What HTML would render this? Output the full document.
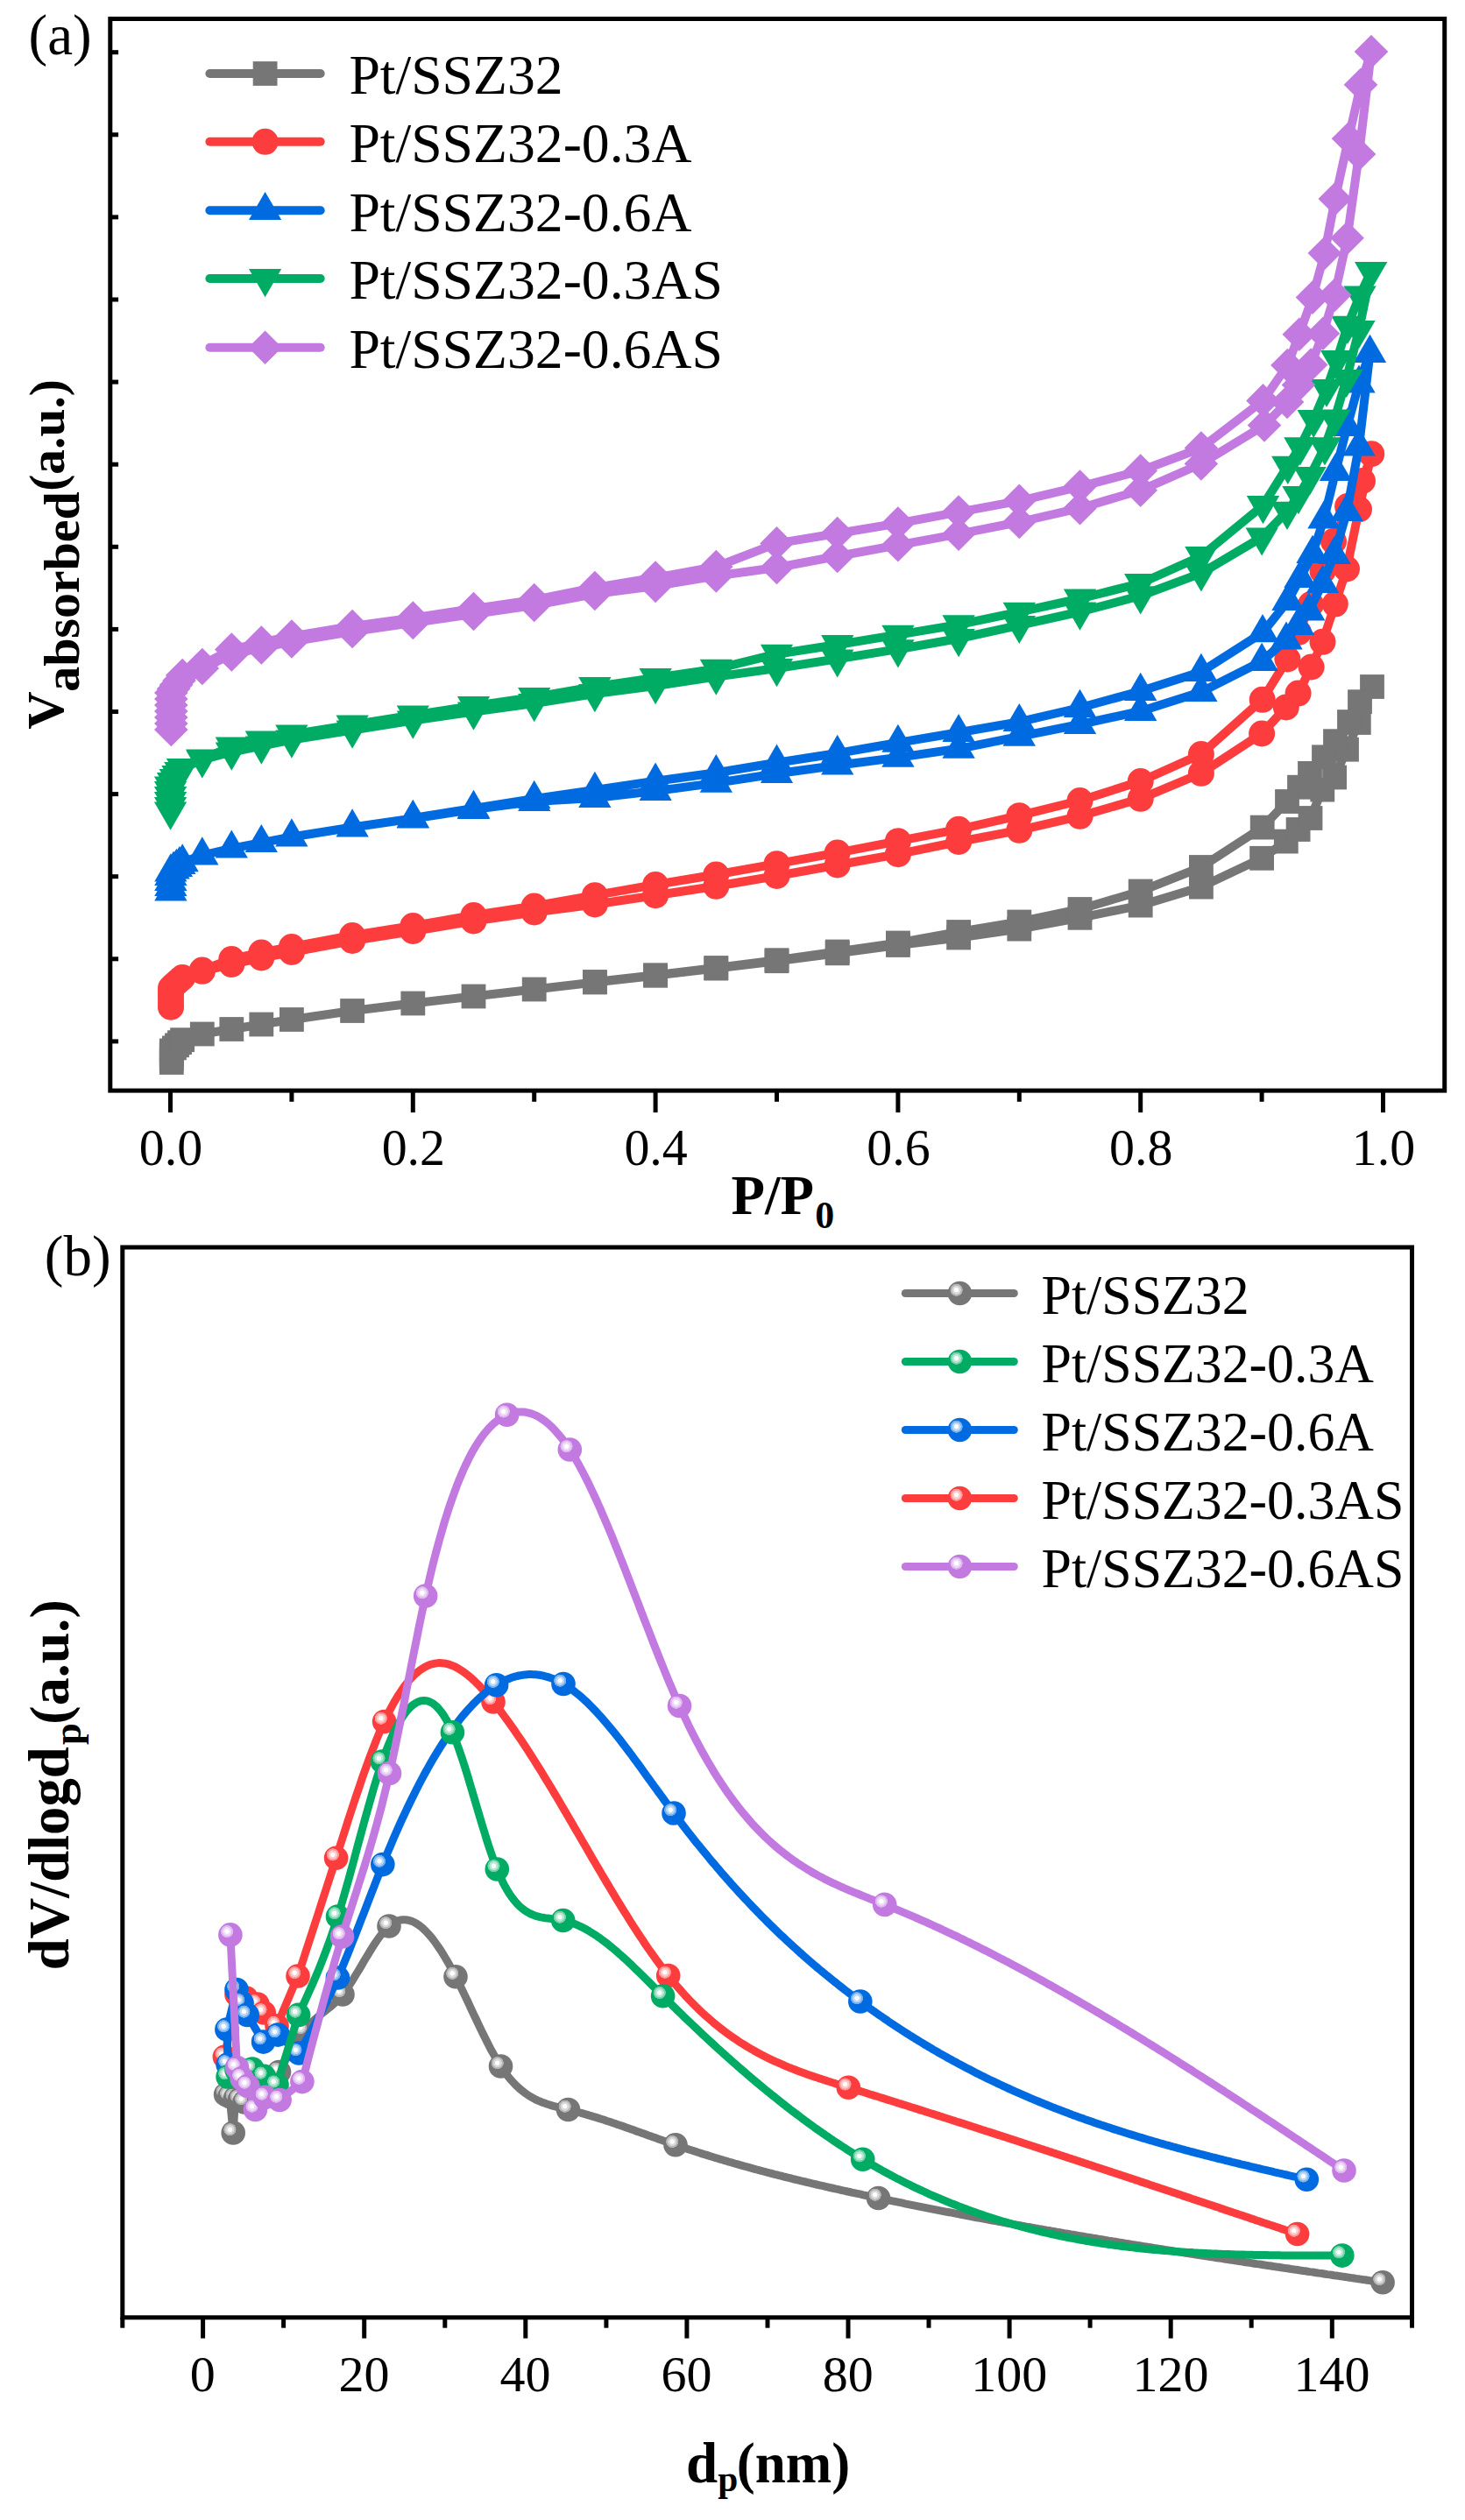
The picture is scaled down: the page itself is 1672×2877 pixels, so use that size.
<!DOCTYPE html>
<html lang="en"><head><meta charset="utf-8"><title>N2 adsorption-desorption isotherms and pore size distribution</title>
<style>html,body{margin:0;padding:0;background:#fff}body{width:1672px;height:2877px;overflow:hidden}svg{display:block}text{font-family:'Liberation Serif', 'Times New Roman', serif;fill:#000}.b{font-weight:bold}</style></head><body>
<svg width="1672" height="2877" viewBox="0 0 1672 2877">
<defs><radialGradient id="hl" cx="0.5" cy="0.5" r="0.5"><stop offset="0" stop-color="#fff" stop-opacity="1"/><stop offset="0.33" stop-color="#fff" stop-opacity="1"/><stop offset="0.40" stop-color="#fff" stop-opacity="0.74"/><stop offset="0.66" stop-color="#fff" stop-opacity="0.72"/><stop offset="0.72" stop-color="#fff" stop-opacity="0.48"/><stop offset="0.95" stop-color="#fff" stop-opacity="0.46"/><stop offset="1" stop-color="#fff" stop-opacity="0"/></radialGradient></defs>
<rect width="1672" height="2877" fill="#fff"/>
<g id="panel-a">
<g fill="#767676" stroke="none">
<path d="M195.8 1213L195.8 1208.5L195.8 1204L195.8 1199.5L198.9 1196.4L202 1193.3L205 1190.2L208.1 1187.2L230.8 1180.5L264.3 1175L298.3 1169.5L332.9 1164L402.1 1154L471.3 1145.5L540.5 1137.5L609.7 1129.5L678.9 1121.5L748.1 1113.7L817.3 1105.6L886.5 1097.2L955.7 1088.3L1024.9 1079L1094.1 1070.5L1163.3 1060.6L1232.5 1047.8L1301.7 1033.6L1370.9 1012.6L1440.1 979.8L1467.8 960.6L1481.6 947L1495.5 934L1509.3 901.6L1523.1 887.5L1537 855.7L1550.8 825L1566 784L1552 801.2L1540 824.1L1524 846.2L1511 864.3L1495 882.9L1483 898.7L1469 915L1440.7 944.6L1370.9 990L1301.7 1017.5L1232.5 1038L1163.3 1052.5L1094.1 1064L1024.9 1076.5L955.7 1086.5L886.5 1096.2L817.3 1105L748.1 1113.3L678.9 1121" fill="none" stroke="#767676" stroke-width="10" stroke-linejoin="round" stroke-linecap="round"/>
<rect x="181.9" y="1199.1" width="27.8" height="27.8"/>
<rect x="181.9" y="1194.6" width="27.8" height="27.8"/>
<rect x="181.9" y="1190.1" width="27.8" height="27.8"/>
<rect x="181.9" y="1185.6" width="27.8" height="27.8"/>
<rect x="185" y="1182.5" width="27.8" height="27.8"/>
<rect x="188.1" y="1179.4" width="27.8" height="27.8"/>
<rect x="191.1" y="1176.3" width="27.8" height="27.8"/>
<rect x="194.2" y="1173.3" width="27.8" height="27.8"/>
<rect x="216.9" y="1166.6" width="27.8" height="27.8"/>
<rect x="250.4" y="1161.1" width="27.8" height="27.8"/>
<rect x="284.4" y="1155.6" width="27.8" height="27.8"/>
<rect x="319" y="1150.1" width="27.8" height="27.8"/>
<rect x="388.2" y="1140.1" width="27.8" height="27.8"/>
<rect x="457.4" y="1131.6" width="27.8" height="27.8"/>
<rect x="526.6" y="1123.6" width="27.8" height="27.8"/>
<rect x="595.8" y="1115.6" width="27.8" height="27.8"/>
<rect x="665" y="1107.6" width="27.8" height="27.8"/>
<rect x="734.2" y="1099.8" width="27.8" height="27.8"/>
<rect x="803.4" y="1091.7" width="27.8" height="27.8"/>
<rect x="872.6" y="1083.3" width="27.8" height="27.8"/>
<rect x="941.8" y="1074.4" width="27.8" height="27.8"/>
<rect x="1011" y="1065.1" width="27.8" height="27.8"/>
<rect x="1080.2" y="1056.6" width="27.8" height="27.8"/>
<rect x="1149.4" y="1046.7" width="27.8" height="27.8"/>
<rect x="1218.6" y="1033.9" width="27.8" height="27.8"/>
<rect x="1287.8" y="1019.7" width="27.8" height="27.8"/>
<rect x="1357" y="998.7" width="27.8" height="27.8"/>
<rect x="1426.2" y="965.9" width="27.8" height="27.8"/>
<rect x="1453.9" y="946.7" width="27.8" height="27.8"/>
<rect x="1467.7" y="933.1" width="27.8" height="27.8"/>
<rect x="1481.6" y="920.1" width="27.8" height="27.8"/>
<rect x="1495.4" y="887.7" width="27.8" height="27.8"/>
<rect x="1509.2" y="873.6" width="27.8" height="27.8"/>
<rect x="1523.1" y="841.8" width="27.8" height="27.8"/>
<rect x="1536.9" y="811.1" width="27.8" height="27.8"/>
<rect x="1552.1" y="770.1" width="27.8" height="27.8"/>
<rect x="1538.1" y="787.3" width="27.8" height="27.8"/>
<rect x="1526.1" y="810.2" width="27.8" height="27.8"/>
<rect x="1510.1" y="832.3" width="27.8" height="27.8"/>
<rect x="1497.1" y="850.4" width="27.8" height="27.8"/>
<rect x="1481.1" y="869" width="27.8" height="27.8"/>
<rect x="1469.1" y="884.8" width="27.8" height="27.8"/>
<rect x="1455.1" y="901.1" width="27.8" height="27.8"/>
<rect x="1426.8" y="930.7" width="27.8" height="27.8"/>
<rect x="1357" y="976.1" width="27.8" height="27.8"/>
<rect x="1287.8" y="1003.6" width="27.8" height="27.8"/>
<rect x="1218.6" y="1024.1" width="27.8" height="27.8"/>
<rect x="1149.4" y="1038.6" width="27.8" height="27.8"/>
<rect x="1080.2" y="1050.1" width="27.8" height="27.8"/>
<rect x="1011" y="1062.6" width="27.8" height="27.8"/>
<rect x="941.8" y="1072.6" width="27.8" height="27.8"/>
<rect x="872.6" y="1082.3" width="27.8" height="27.8"/>
<rect x="803.4" y="1091.1" width="27.8" height="27.8"/>
<rect x="734.2" y="1099.4" width="27.8" height="27.8"/>
<rect x="665" y="1107.1" width="27.8" height="27.8"/>
</g>
<g fill="#fd3d3d" stroke="none">
<path d="M195 1149.7L195 1144L195 1138.5L195 1133L195 1128L198 1125L201.4 1122L204.8 1119L208.2 1116L230.8 1108.8L264.3 1101L298.3 1093.5L332.9 1087L402.1 1074L471.3 1063L540.5 1051.5L609.7 1041.5L678.9 1032.5L748.1 1022.2L817.3 1011.8L886.5 1000L955.7 987.5L1024.9 975.2L1094.1 961L1163.3 947.8L1232.5 931.8L1301.7 911.8L1370.9 882.8L1440.1 837.5L1467.8 807.4L1481.6 791.6L1496.6 761.5L1509.5 732.8L1523.8 689.6L1537 649.5L1551 581.5L1565.2 518.2L1555 549L1538 578L1522 618L1509.5 652L1496 690L1482 722L1469.4 752.5L1440.7 798.8L1370.9 861L1301.7 892L1232.5 914L1163.3 931.2L1094.1 946.8L1024.9 960.2L955.7 973.6L886.5 986.2L817.3 998.5L748.1 1010L678.9 1022.2L609.7 1034.5L540.5 1045L471.3 1057L402.1 1068L332.9 1081L298.3 1087.5L264.3 1095L230.8 1107.5" fill="none" stroke="#fd3d3d" stroke-width="10" stroke-linejoin="round" stroke-linecap="round"/>
<circle cx="195" cy="1149.7" r="15"/>
<circle cx="195" cy="1144" r="15"/>
<circle cx="195" cy="1138.5" r="15"/>
<circle cx="195" cy="1133" r="15"/>
<circle cx="195" cy="1128" r="15"/>
<circle cx="198" cy="1125" r="15"/>
<circle cx="201.4" cy="1122" r="15"/>
<circle cx="204.8" cy="1119" r="15"/>
<circle cx="208.2" cy="1116" r="15"/>
<circle cx="230.8" cy="1108.8" r="15"/>
<circle cx="264.3" cy="1101" r="15"/>
<circle cx="298.3" cy="1093.5" r="15"/>
<circle cx="332.9" cy="1087" r="15"/>
<circle cx="402.1" cy="1074" r="15"/>
<circle cx="471.3" cy="1063" r="15"/>
<circle cx="540.5" cy="1051.5" r="15"/>
<circle cx="609.7" cy="1041.5" r="15"/>
<circle cx="678.9" cy="1032.5" r="15"/>
<circle cx="748.1" cy="1022.2" r="15"/>
<circle cx="817.3" cy="1011.8" r="15"/>
<circle cx="886.5" cy="1000" r="15"/>
<circle cx="955.7" cy="987.5" r="15"/>
<circle cx="1024.9" cy="975.2" r="15"/>
<circle cx="1094.1" cy="961" r="15"/>
<circle cx="1163.3" cy="947.8" r="15"/>
<circle cx="1232.5" cy="931.8" r="15"/>
<circle cx="1301.7" cy="911.8" r="15"/>
<circle cx="1370.9" cy="882.8" r="15"/>
<circle cx="1440.1" cy="837.5" r="15"/>
<circle cx="1467.8" cy="807.4" r="15"/>
<circle cx="1481.6" cy="791.6" r="15"/>
<circle cx="1496.6" cy="761.5" r="15"/>
<circle cx="1509.5" cy="732.8" r="15"/>
<circle cx="1523.8" cy="689.6" r="15"/>
<circle cx="1537" cy="649.5" r="15"/>
<circle cx="1551" cy="581.5" r="15"/>
<circle cx="1565.2" cy="518.2" r="15"/>
<circle cx="1555" cy="549" r="15"/>
<circle cx="1538" cy="578" r="15"/>
<circle cx="1522" cy="618" r="15"/>
<circle cx="1509.5" cy="652" r="15"/>
<circle cx="1496" cy="690" r="15"/>
<circle cx="1482" cy="722" r="15"/>
<circle cx="1469.4" cy="752.5" r="15"/>
<circle cx="1440.7" cy="798.8" r="15"/>
<circle cx="1370.9" cy="861" r="15"/>
<circle cx="1301.7" cy="892" r="15"/>
<circle cx="1232.5" cy="914" r="15"/>
<circle cx="1163.3" cy="931.2" r="15"/>
<circle cx="1094.1" cy="946.8" r="15"/>
<circle cx="1024.9" cy="960.2" r="15"/>
<circle cx="955.7" cy="973.6" r="15"/>
<circle cx="886.5" cy="986.2" r="15"/>
<circle cx="817.3" cy="998.5" r="15"/>
<circle cx="748.1" cy="1010" r="15"/>
<circle cx="678.9" cy="1022.2" r="15"/>
<circle cx="609.7" cy="1034.5" r="15"/>
<circle cx="540.5" cy="1045" r="15"/>
<circle cx="471.3" cy="1057" r="15"/>
<circle cx="402.1" cy="1068" r="15"/>
<circle cx="332.9" cy="1081" r="15"/>
<circle cx="298.3" cy="1087.5" r="15"/>
<circle cx="264.3" cy="1095" r="15"/>
<circle cx="230.8" cy="1107.5" r="15"/>
</g>
<g fill="#006be0" stroke="none">
<path d="M194.8 1017.5L194.8 1012L194.8 1006L194.8 1000L194.8 995.5L198 992.7L201.4 990L204.8 987.2L208.2 984.4L230.8 976.5L264.3 968.6L298.3 962.2L332.9 955.5L402.1 944.5L471.3 934.5L540.5 924L609.7 915L678.9 911L748.1 903L817.3 893.9L886.5 883.2L955.7 873.7L1024.9 864.9L1094.1 854.8L1163.3 840.8L1232.5 827L1301.7 812L1370.9 790L1440.1 755L1468 730.6L1481.5 714L1493.7 697.7L1509.5 666L1523 633L1537.2 584L1551 509.6L1563.5 403L1551 437.7L1537.5 487L1524.4 538L1511 592.5L1498 632L1484 660L1470 686L1441 722.3L1370.9 767L1301.7 789L1232.5 808L1163.3 824.2L1094.1 836.2L1024.9 847.9L955.7 860L886.5 870.8L817.3 882.3L748.1 891.8L678.9 902L609.7 912L540.5 923L471.3 934" fill="none" stroke="#006be0" stroke-width="10" stroke-linejoin="round" stroke-linecap="round"/>
<path d="M194.8 996.3L213.5 1028.4L176.2 1028.4Z"/>
<path d="M194.8 990.8L213.5 1022.9L176.2 1022.9Z"/>
<path d="M194.8 984.8L213.5 1016.9L176.2 1016.9Z"/>
<path d="M194.8 978.8L213.5 1010.9L176.2 1010.9Z"/>
<path d="M194.8 974.3L213.5 1006.4L176.2 1006.4Z"/>
<path d="M198 971.5L216.7 1003.6L179.3 1003.6Z"/>
<path d="M201.4 968.8L220.1 1000.9L182.8 1000.9Z"/>
<path d="M204.8 966L223.5 998.1L186.2 998.1Z"/>
<path d="M208.2 963.2L226.8 995.3L189.5 995.3Z"/>
<path d="M230.8 955.3L249.5 987.4L212.2 987.4Z"/>
<path d="M264.3 947.4L282.9 979.5L245.7 979.5Z"/>
<path d="M298.3 941L316.9 973.1L279.7 973.1Z"/>
<path d="M332.9 934.3L351.5 966.4L314.2 966.4Z"/>
<path d="M402.1 923.3L420.8 955.4L383.5 955.4Z"/>
<path d="M471.3 913.3L489.9 945.4L452.7 945.4Z"/>
<path d="M540.5 902.8L559.1 934.9L521.9 934.9Z"/>
<path d="M609.7 893.8L628.4 925.9L591.1 925.9Z"/>
<path d="M678.9 889.8L697.5 921.9L660.2 921.9Z"/>
<path d="M748.1 881.8L766.8 913.9L729.5 913.9Z"/>
<path d="M817.3 872.7L836 904.8L798.7 904.8Z"/>
<path d="M886.5 862L905.1 894.1L867.9 894.1Z"/>
<path d="M955.7 852.5L974.4 884.6L937.1 884.6Z"/>
<path d="M1024.9 843.7L1043.6 875.8L1006.3 875.8Z"/>
<path d="M1094.1 833.6L1112.8 865.7L1075.4 865.7Z"/>
<path d="M1163.3 819.6L1182 851.7L1144.6 851.7Z"/>
<path d="M1232.5 805.8L1251.2 837.9L1213.8 837.9Z"/>
<path d="M1301.7 790.8L1320.4 822.9L1283 822.9Z"/>
<path d="M1370.9 768.8L1389.5 800.9L1352.2 800.9Z"/>
<path d="M1440.1 733.8L1458.8 765.9L1421.5 765.9Z"/>
<path d="M1468 709.4L1486.7 741.5L1449.3 741.5Z"/>
<path d="M1481.5 692.8L1500.2 724.9L1462.8 724.9Z"/>
<path d="M1493.7 676.5L1512.4 708.6L1475 708.6Z"/>
<path d="M1509.5 644.8L1528.2 676.9L1490.8 676.9Z"/>
<path d="M1523 611.8L1541.7 643.9L1504.3 643.9Z"/>
<path d="M1537.2 562.8L1555.9 594.9L1518.5 594.9Z"/>
<path d="M1551 488.4L1569.7 520.5L1532.3 520.5Z"/>
<path d="M1563.5 381.8L1582.2 413.9L1544.8 413.9Z"/>
<path d="M1551 416.5L1569.7 448.6L1532.3 448.6Z"/>
<path d="M1537.5 465.8L1556.2 497.9L1518.8 497.9Z"/>
<path d="M1524.4 516.8L1543.1 548.9L1505.8 548.9Z"/>
<path d="M1511 571.3L1529.7 603.4L1492.3 603.4Z"/>
<path d="M1498 610.8L1516.7 642.9L1479.3 642.9Z"/>
<path d="M1484 638.8L1502.7 670.9L1465.3 670.9Z"/>
<path d="M1470 664.8L1488.7 696.9L1451.3 696.9Z"/>
<path d="M1441 701.1L1459.7 733.2L1422.3 733.2Z"/>
<path d="M1370.9 745.8L1389.5 777.9L1352.2 777.9Z"/>
<path d="M1301.7 767.8L1320.4 799.9L1283 799.9Z"/>
<path d="M1232.5 786.8L1251.2 818.9L1213.8 818.9Z"/>
<path d="M1163.3 803L1182 835.1L1144.6 835.1Z"/>
<path d="M1094.1 815L1112.8 847.1L1075.4 847.1Z"/>
<path d="M1024.9 826.7L1043.6 858.8L1006.3 858.8Z"/>
<path d="M955.7 838.8L974.4 870.9L937.1 870.9Z"/>
<path d="M886.5 849.6L905.1 881.7L867.9 881.7Z"/>
<path d="M817.3 861.1L836 893.2L798.7 893.2Z"/>
<path d="M748.1 870.6L766.8 902.7L729.5 902.7Z"/>
<path d="M678.9 880.8L697.5 912.9L660.2 912.9Z"/>
<path d="M609.7 890.8L628.4 922.9L591.1 922.9Z"/>
<path d="M540.5 901.8L559.1 933.9L521.9 933.9Z"/>
<path d="M471.3 912.8L489.9 944.9L452.7 944.9Z"/>
</g>
<g fill="#00ab64" stroke="none">
<path d="M194.6 926.5L194.6 921L194.6 915L194.6 909L194.6 903L194.6 897.5L197.5 893L200.3 889L203 885L205.8 881L208.5 877L230.8 867.3L264.3 858.5L298.3 851.5L332.9 844.5L402.1 833.5L471.3 822.5L540.5 812.5L609.7 803L678.9 792L748.1 783L817.3 772.6L886.5 763L955.7 752.3L1024.9 741.2L1094.1 729L1163.3 713.8L1232.5 698.5L1301.7 680.2L1370.9 654.4L1440.1 613.4L1469 583.7L1482 566L1495 544L1512 510.2L1523.2 478.3L1536.7 432.8L1551 376.8L1564.7 310L1552 337.3L1538 371.7L1525.7 411L1514 443.9L1499.2 478.9L1483.9 510.2L1469.8 531.7L1441.5 577L1370.9 635L1301.7 666L1232.5 683.5L1163.3 698.6L1094.1 713.1L1024.9 724.6L955.7 736L886.5 746.7L817.3 763.6L748.1 774L678.9 784L609.7 796L540.5 806L471.3 816.5L402.1 827.5L332.9 838.5L298.3 845.5L264.3 852.5L230.8 866.5" fill="none" stroke="#00ab64" stroke-width="10" stroke-linejoin="round" stroke-linecap="round"/>
<path d="M194.6 947.7L213.2 915.6L175.9 915.6Z"/>
<path d="M194.6 942.2L213.2 910.1L175.9 910.1Z"/>
<path d="M194.6 936.2L213.2 904.1L175.9 904.1Z"/>
<path d="M194.6 930.2L213.2 898.1L175.9 898.1Z"/>
<path d="M194.6 924.2L213.2 892.1L175.9 892.1Z"/>
<path d="M194.6 918.7L213.2 886.6L175.9 886.6Z"/>
<path d="M197.5 914.2L216.2 882.1L178.8 882.1Z"/>
<path d="M200.3 910.2L219 878.1L181.7 878.1Z"/>
<path d="M203 906.2L221.7 874.1L184.3 874.1Z"/>
<path d="M205.8 902.2L224.5 870.1L187.2 870.1Z"/>
<path d="M208.5 898.2L227.2 866.1L189.8 866.1Z"/>
<path d="M230.8 888.5L249.5 856.4L212.2 856.4Z"/>
<path d="M264.3 879.7L282.9 847.6L245.7 847.6Z"/>
<path d="M298.3 872.7L316.9 840.6L279.7 840.6Z"/>
<path d="M332.9 865.7L351.5 833.6L314.2 833.6Z"/>
<path d="M402.1 854.7L420.8 822.6L383.5 822.6Z"/>
<path d="M471.3 843.7L489.9 811.6L452.7 811.6Z"/>
<path d="M540.5 833.7L559.1 801.6L521.9 801.6Z"/>
<path d="M609.7 824.2L628.4 792.1L591.1 792.1Z"/>
<path d="M678.9 813.2L697.5 781.1L660.2 781.1Z"/>
<path d="M748.1 804.2L766.8 772.1L729.5 772.1Z"/>
<path d="M817.3 793.8L836 761.7L798.7 761.7Z"/>
<path d="M886.5 784.2L905.1 752.1L867.9 752.1Z"/>
<path d="M955.7 773.5L974.4 741.4L937.1 741.4Z"/>
<path d="M1024.9 762.4L1043.6 730.3L1006.3 730.3Z"/>
<path d="M1094.1 750.2L1112.8 718.1L1075.4 718.1Z"/>
<path d="M1163.3 735L1182 702.9L1144.6 702.9Z"/>
<path d="M1232.5 719.7L1251.2 687.6L1213.8 687.6Z"/>
<path d="M1301.7 701.4L1320.4 669.3L1283 669.3Z"/>
<path d="M1370.9 675.6L1389.5 643.5L1352.2 643.5Z"/>
<path d="M1440.1 634.6L1458.8 602.5L1421.5 602.5Z"/>
<path d="M1469 604.9L1487.7 572.8L1450.3 572.8Z"/>
<path d="M1482 587.2L1500.7 555.1L1463.3 555.1Z"/>
<path d="M1495 565.2L1513.7 533.1L1476.3 533.1Z"/>
<path d="M1512 531.4L1530.7 499.3L1493.3 499.3Z"/>
<path d="M1523.2 499.5L1541.9 467.4L1504.5 467.4Z"/>
<path d="M1536.7 454L1555.4 421.9L1518 421.9Z"/>
<path d="M1551 398L1569.7 365.9L1532.3 365.9Z"/>
<path d="M1564.7 331.2L1583.4 299.1L1546 299.1Z"/>
<path d="M1552 358.5L1570.7 326.4L1533.3 326.4Z"/>
<path d="M1538 392.9L1556.7 360.8L1519.3 360.8Z"/>
<path d="M1525.7 432.2L1544.4 400.1L1507 400.1Z"/>
<path d="M1514 465.1L1532.7 433L1495.3 433Z"/>
<path d="M1499.2 500.1L1517.9 468L1480.5 468Z"/>
<path d="M1483.9 531.4L1502.6 499.3L1465.2 499.3Z"/>
<path d="M1469.8 552.9L1488.5 520.8L1451.1 520.8Z"/>
<path d="M1441.5 598.2L1460.2 566.1L1422.8 566.1Z"/>
<path d="M1370.9 656.2L1389.5 624.1L1352.2 624.1Z"/>
<path d="M1301.7 687.2L1320.4 655.1L1283 655.1Z"/>
<path d="M1232.5 704.7L1251.2 672.6L1213.8 672.6Z"/>
<path d="M1163.3 719.8L1182 687.7L1144.6 687.7Z"/>
<path d="M1094.1 734.3L1112.8 702.2L1075.4 702.2Z"/>
<path d="M1024.9 745.8L1043.6 713.7L1006.3 713.7Z"/>
<path d="M955.7 757.2L974.4 725.1L937.1 725.1Z"/>
<path d="M886.5 767.9L905.1 735.8L867.9 735.8Z"/>
<path d="M817.3 784.8L836 752.7L798.7 752.7Z"/>
<path d="M748.1 795.2L766.8 763.1L729.5 763.1Z"/>
<path d="M678.9 805.2L697.5 773.1L660.2 773.1Z"/>
<path d="M609.7 817.2L628.4 785.1L591.1 785.1Z"/>
<path d="M540.5 827.2L559.1 795.1L521.9 795.1Z"/>
<path d="M471.3 837.7L489.9 805.6L452.7 805.6Z"/>
<path d="M402.1 848.7L420.8 816.6L383.5 816.6Z"/>
<path d="M332.9 859.7L351.5 827.6L314.2 827.6Z"/>
<path d="M298.3 866.7L316.9 834.6L279.7 834.6Z"/>
<path d="M264.3 873.7L282.9 841.6L245.7 841.6Z"/>
<path d="M230.8 887.7L249.5 855.6L212.2 855.6Z"/>
</g>
<g fill="#c27ae1" stroke="none">
<path d="M195.3 833L195.3 826L195.3 819L195.3 812L195.3 805L195.3 798L195.3 791L198 786.5L201 782L204.5 777L208.2 771L230.8 763L264.3 747.5L298.3 739.5L332.9 732.5L402.1 721L471.3 711L540.5 701L609.7 691L678.9 678L748.1 669L817.3 657.5L886.5 648L955.7 635L1024.9 622.3L1094.1 609.7L1163.3 596L1232.5 580.2L1301.7 559.8L1370.9 529.5L1443 485.5L1469 459L1482 439.6L1496.2 416.5L1510 380.8L1523.3 336.8L1537.6 271.7L1551 176L1565 59L1553 96.8L1539 158.3L1523.8 227L1511.8 289L1498 339.6L1482.8 381.8L1469.4 417L1441.5 457.4L1370.9 511.5L1301.7 537.5L1232.5 555.6L1163.3 571.8L1094.1 584.6L1024.9 597.5L955.7 609L886.5 620.4L817.3 647L748.1 659.5L678.9 671L609.7 685L540.5 695L471.3 705.5L402.1 715L332.9 726.5L298.3 733.5L264.3 741.5L230.8 759" fill="none" stroke="#c27ae1" stroke-width="10" stroke-linejoin="round" stroke-linecap="round"/>
<path d="M195.3 813.7L214.6 833L195.3 852.3L176 833Z"/>
<path d="M195.3 806.7L214.6 826L195.3 845.3L176 826Z"/>
<path d="M195.3 799.7L214.6 819L195.3 838.3L176 819Z"/>
<path d="M195.3 792.7L214.6 812L195.3 831.3L176 812Z"/>
<path d="M195.3 785.7L214.6 805L195.3 824.3L176 805Z"/>
<path d="M195.3 778.7L214.6 798L195.3 817.3L176 798Z"/>
<path d="M195.3 771.7L214.6 791L195.3 810.3L176 791Z"/>
<path d="M198 767.2L217.3 786.5L198 805.8L178.7 786.5Z"/>
<path d="M201 762.7L220.3 782L201 801.3L181.7 782Z"/>
<path d="M204.5 757.7L223.8 777L204.5 796.3L185.2 777Z"/>
<path d="M208.2 751.7L227.5 771L208.2 790.3L188.9 771Z"/>
<path d="M230.8 743.7L250.1 763L230.8 782.3L211.5 763Z"/>
<path d="M264.3 728.2L283.6 747.5L264.3 766.8L245 747.5Z"/>
<path d="M298.3 720.2L317.6 739.5L298.3 758.8L279 739.5Z"/>
<path d="M332.9 713.2L352.2 732.5L332.9 751.8L313.6 732.5Z"/>
<path d="M402.1 701.7L421.4 721L402.1 740.3L382.8 721Z"/>
<path d="M471.3 691.7L490.6 711L471.3 730.3L452 711Z"/>
<path d="M540.5 681.7L559.8 701L540.5 720.3L521.2 701Z"/>
<path d="M609.7 671.7L629 691L609.7 710.3L590.4 691Z"/>
<path d="M678.9 658.7L698.2 678L678.9 697.3L659.6 678Z"/>
<path d="M748.1 649.7L767.4 669L748.1 688.3L728.8 669Z"/>
<path d="M817.3 638.2L836.6 657.5L817.3 676.8L798 657.5Z"/>
<path d="M886.5 628.7L905.8 648L886.5 667.3L867.2 648Z"/>
<path d="M955.7 615.7L975 635L955.7 654.3L936.4 635Z"/>
<path d="M1024.9 603L1044.2 622.3L1024.9 641.6L1005.6 622.3Z"/>
<path d="M1094.1 590.4L1113.4 609.7L1094.1 629L1074.8 609.7Z"/>
<path d="M1163.3 576.7L1182.6 596L1163.3 615.3L1144 596Z"/>
<path d="M1232.5 560.9L1251.8 580.2L1232.5 599.5L1213.2 580.2Z"/>
<path d="M1301.7 540.5L1321 559.8L1301.7 579.1L1282.4 559.8Z"/>
<path d="M1370.9 510.2L1390.2 529.5L1370.9 548.8L1351.6 529.5Z"/>
<path d="M1443 466.2L1462.3 485.5L1443 504.8L1423.7 485.5Z"/>
<path d="M1469 439.7L1488.3 459L1469 478.3L1449.7 459Z"/>
<path d="M1482 420.3L1501.3 439.6L1482 458.9L1462.7 439.6Z"/>
<path d="M1496.2 397.2L1515.5 416.5L1496.2 435.8L1476.9 416.5Z"/>
<path d="M1510 361.5L1529.3 380.8L1510 400.1L1490.7 380.8Z"/>
<path d="M1523.3 317.5L1542.6 336.8L1523.3 356.1L1504 336.8Z"/>
<path d="M1537.6 252.4L1556.9 271.7L1537.6 291L1518.3 271.7Z"/>
<path d="M1551 156.7L1570.3 176L1551 195.3L1531.7 176Z"/>
<path d="M1565 39.7L1584.3 59L1565 78.3L1545.7 59Z"/>
<path d="M1553 77.5L1572.3 96.8L1553 116.1L1533.7 96.8Z"/>
<path d="M1539 139L1558.3 158.3L1539 177.6L1519.7 158.3Z"/>
<path d="M1523.8 207.7L1543.1 227L1523.8 246.3L1504.5 227Z"/>
<path d="M1511.8 269.7L1531.1 289L1511.8 308.3L1492.5 289Z"/>
<path d="M1498 320.3L1517.3 339.6L1498 358.9L1478.7 339.6Z"/>
<path d="M1482.8 362.5L1502.1 381.8L1482.8 401.1L1463.5 381.8Z"/>
<path d="M1469.4 397.7L1488.7 417L1469.4 436.3L1450.1 417Z"/>
<path d="M1441.5 438.1L1460.8 457.4L1441.5 476.7L1422.2 457.4Z"/>
<path d="M1370.9 492.2L1390.2 511.5L1370.9 530.8L1351.6 511.5Z"/>
<path d="M1301.7 518.2L1321 537.5L1301.7 556.8L1282.4 537.5Z"/>
<path d="M1232.5 536.3L1251.8 555.6L1232.5 574.9L1213.2 555.6Z"/>
<path d="M1163.3 552.5L1182.6 571.8L1163.3 591.1L1144 571.8Z"/>
<path d="M1094.1 565.3L1113.4 584.6L1094.1 603.9L1074.8 584.6Z"/>
<path d="M1024.9 578.2L1044.2 597.5L1024.9 616.8L1005.6 597.5Z"/>
<path d="M955.7 589.7L975 609L955.7 628.3L936.4 609Z"/>
<path d="M886.5 601.1L905.8 620.4L886.5 639.7L867.2 620.4Z"/>
<path d="M817.3 627.7L836.6 647L817.3 666.3L798 647Z"/>
<path d="M748.1 640.2L767.4 659.5L748.1 678.8L728.8 659.5Z"/>
<path d="M678.9 651.7L698.2 671L678.9 690.3L659.6 671Z"/>
<path d="M609.7 665.7L629 685L609.7 704.3L590.4 685Z"/>
<path d="M540.5 675.7L559.8 695L540.5 714.3L521.2 695Z"/>
<path d="M471.3 686.2L490.6 705.5L471.3 724.8L452 705.5Z"/>
<path d="M402.1 695.7L421.4 715L402.1 734.3L382.8 715Z"/>
<path d="M332.9 707.2L352.2 726.5L332.9 745.8L313.6 726.5Z"/>
<path d="M298.3 714.2L317.6 733.5L298.3 752.8L279 733.5Z"/>
<path d="M264.3 722.2L283.6 741.5L264.3 760.8L245 741.5Z"/>
<path d="M230.8 739.7L250.1 759L230.8 778.3L211.5 759Z"/>
</g>
<g stroke="#000" stroke-width="5" fill="none" stroke-linecap="butt">
<rect x="125.8" y="21.5" width="1522.9" height="1223.6"/>
<path d="M125.8 59.7H135.1"/>
<path d="M125.8 153.8H135.1"/>
<path d="M125.8 247.9H135.1"/>
<path d="M125.8 342H135.1"/>
<path d="M125.8 436.1H135.1"/>
<path d="M125.8 530.2H135.1"/>
<path d="M125.8 624.3H135.1"/>
<path d="M125.8 718.4H135.1"/>
<path d="M125.8 812.5H135.1"/>
<path d="M125.8 906.6H135.1"/>
<path d="M125.8 1000.7H135.1"/>
<path d="M125.8 1094.8H135.1"/>
<path d="M125.8 1188.9H135.1"/>
<path d="M194.5 1245.1V1270.1"/>
<path d="M471.3 1245.1V1270.1"/>
<path d="M748.1 1245.1V1270.1"/>
<path d="M1024.9 1245.1V1270.1"/>
<path d="M1301.7 1245.1V1270.1"/>
<path d="M1578.5 1245.1V1270.1"/>
<path d="M332.9 1245.1V1257.8"/>
<path d="M609.7 1245.1V1257.8"/>
<path d="M886.5 1245.1V1257.8"/>
<path d="M1163.3 1245.1V1257.8"/>
<path d="M1440.1 1245.1V1257.8"/>
</g>
<g font-size="60">
<text text-anchor="middle" transform="translate(195 1330) scale(0.965 1)">0.0</text>
<text text-anchor="middle" transform="translate(471.8 1330) scale(0.965 1)">0.2</text>
<text text-anchor="middle" transform="translate(748.6 1330) scale(0.965 1)">0.4</text>
<text text-anchor="middle" transform="translate(1025.4 1330) scale(0.965 1)">0.6</text>
<text text-anchor="middle" transform="translate(1302.2 1330) scale(0.965 1)">0.8</text>
<text text-anchor="middle" transform="translate(1579 1330) scale(0.965 1)">1.0</text>
</g>
<text class="b" font-size="63" x="834.5" y="1386.2">P/P<tspan font-size="44" dx="1.2" dy="15.5">0</tspan></text>
<g class="b" transform="translate(72.6 832.8) rotate(-90)"><text font-size="60" x="0" y="-0.9">V</text><text font-size="58" x="43" y="17" textLength="228.6" lengthAdjust="spacing">absorbed</text><text font-size="57.5" x="272" y="0">(a.u.)</text></g>
<text font-size="65" x="32.5" y="61.5">(a)</text>
<g fill="#767676"><path d="M239.4 84H365.7" stroke="#767676" stroke-width="10" stroke-linecap="round"/><rect x="288.7" y="70.1" width="27.8" height="27.8"/></g>
<text font-size="63.7" x="398.4" y="107.3">Pt/SSZ32</text>
<g fill="#fd3d3d"><path d="M239.4 161.8H365.7" stroke="#fd3d3d" stroke-width="10" stroke-linecap="round"/><circle cx="302.6" cy="161.8" r="15"/></g>
<text font-size="63.7" x="398.4" y="185.1">Pt/SSZ32-0.3A</text>
<g fill="#006be0"><path d="M239.4 240.2H365.7" stroke="#006be0" stroke-width="10" stroke-linecap="round"/><path d="M302.6 219L321.2 251.1L284 251.1Z"/></g>
<text font-size="63.7" x="398.4" y="263.5">Pt/SSZ32-0.6A</text>
<g fill="#00ab64"><path d="M239.4 318H365.7" stroke="#00ab64" stroke-width="10" stroke-linecap="round"/><path d="M302.6 339.2L321.2 307.1L284 307.1Z"/></g>
<text font-size="63.7" x="398.4" y="341.3">Pt/SSZ32-0.3AS</text>
<g fill="#c27ae1"><path d="M239.4 396.8H365.7" stroke="#c27ae1" stroke-width="10" stroke-linecap="round"/><path d="M302.6 377.5L321.9 396.8L302.6 416.1L283.3 396.8Z"/></g>
<text font-size="63.7" x="398.4" y="420.1">Pt/SSZ32-0.6AS</text>
</g>
<g id="panel-b">
<g fill="#767676">
<path d="M257.6 2391.3L262 2393.5L266.2 2435L268.5 2395.5L273.5 2397L279 2400L318.5 2365.5L321 2360.8L323.5 2356.2L326.1 2351.6L328.6 2347L331.1 2342.6L333.6 2338.3L336.2 2334.1L338.7 2330.1L341.2 2326.3L343.7 2322.7L346.3 2319.4L346.7 2318.8L348.8 2316.2L351.3 2313.4L353.8 2310.7L356.4 2308.3L358.9 2306L361.4 2303.8L363.9 2301.7L366.5 2299.6L369 2297.6L371.5 2295.6L374 2293.6L376.6 2291.5L379.1 2289.3L381.6 2287.1L384.1 2284.6L386.7 2282L389.2 2279.2L391 2277L391.7 2276.1L394.2 2272.8L396.8 2269.3L399.3 2265.6L401.8 2261.7L404.3 2257.7L406.8 2253.5L409.4 2249.3L411.9 2245.1L414.4 2240.8L416.9 2236.5L419.5 2232.3L422 2228.1L424.5 2224.1L427 2220.1L429.6 2216.3L432.1 2212.7L434.6 2209.3L437.1 2206.2L439.7 2203.3L442.2 2200.7L444 2199L444.7 2198.4L447.2 2196.5L449.8 2194.9L452.3 2193.6L454.8 2192.7L457.3 2192L459.9 2191.7L462.4 2191.7L464.9 2192L467.4 2192.6L470 2193.4L472.5 2194.5L475 2195.9L477.5 2197.5L480.1 2199.4L482.6 2201.5L485.1 2203.9L487.6 2206.5L490.1 2209.3L492.7 2212.3L495.2 2215.5L497.7 2219L500.2 2222.6L502.8 2226.4L505.3 2230.4L507.8 2234.5L510.3 2238.8L512.9 2243.3L515.4 2247.9L517.9 2252.7L520 2256.7L520.4 2257.6L523 2262.6L525.5 2267.7L528 2272.9L530.5 2278.2L533.1 2283.5L535.6 2288.9L538.1 2294.3L540.6 2299.7L543.2 2305L545.7 2310.4L548.2 2315.7L550.7 2320.9L553.3 2326L555.8 2331.1L558.3 2336L560.8 2340.8L563.4 2345.4L565.9 2349.8L568.4 2354.1L570.9 2358.1L571.5 2359L573.4 2361.9L576 2365.5L578.5 2368.9L581 2372.1L583.5 2375L586.1 2377.8L588.6 2380.4L591.1 2382.8L593.6 2385.1L596.2 2387.2L598.7 2389.1L601.2 2390.9L603.7 2392.6L606.3 2394.1L608.8 2395.6L611.3 2396.9L613.8 2398.1L616.4 2399.2L618.9 2400.2L621.4 2401.1L623.9 2402L626.5 2402.8L629 2403.6L631.5 2404.3L634 2405L636.6 2405.6L639.1 2406.2L641.6 2406.8L644.1 2407.4L646.7 2408.1L648.5 2408.5L649.2 2408.7L651.7 2409.3L654.2 2409.9L656.7 2410.6L659.3 2411.3L661.8 2412L664.3 2412.7L666.8 2413.4L669.4 2414.1L671.9 2414.9L674.4 2415.6L676.9 2416.4L679.5 2417.1L682 2417.9L684.5 2418.7L687 2419.5L689.6 2420.3L692.1 2421.2L694.6 2422L697.1 2422.8L699.7 2423.7L702.2 2424.5L704.7 2425.4L707.2 2426.3L709.8 2427.1L712.3 2428L714.8 2428.9L717.3 2429.8L719.9 2430.7L722.4 2431.6L724.9 2432.5L727.4 2433.4L730 2434.3L732.5 2435.2L735 2436.1L737.5 2437L740 2437.9L742.6 2438.8L745.1 2439.7L747.6 2440.6L750.1 2441.5L752.7 2442.4L755.2 2443.3L757.7 2444.2L760.2 2445.1L762.8 2445.9L765.3 2446.8L767.8 2447.7L770.3 2448.6L771 2448.8L772.9 2449.4L775.4 2450.3L777.9 2451.1L780.4 2452L783 2452.8L785.5 2453.7L788 2454.5L790.5 2455.3L793.1 2456.1L795.6 2457L798.1 2457.8L800.6 2458.6L803.2 2459.4L805.7 2460.1L808.2 2460.9L810.7 2461.7L813.3 2462.5L815.8 2463.3L818.3 2464L820.8 2464.8L823.3 2465.5L825.9 2466.3L828.4 2467L830.9 2467.8L833.4 2468.5L836 2469.2L838.5 2470L841 2470.7L843.5 2471.4L846.1 2472.1L848.6 2472.8L851.1 2473.5L853.6 2474.2L856.2 2474.9L858.7 2475.6L861.2 2476.3L863.7 2477L866.3 2477.7L868.8 2478.3L871.3 2479L873.8 2479.7L876.4 2480.3L878.9 2481L881.4 2481.6L883.9 2482.3L886.5 2482.9L889 2483.6L891.5 2484.2L894 2484.9L896.6 2485.5L899.1 2486.1L901.6 2486.7L904.1 2487.4L906.6 2488L909.2 2488.6L911.7 2489.2L914.2 2489.8L916.7 2490.4L919.3 2491L921.8 2491.6L924.3 2492.2L926.8 2492.8L929.4 2493.4L931.9 2494L934.4 2494.6L936.9 2495.2L939.5 2495.7L942 2496.3L944.5 2496.9L947 2497.5L949.6 2498L952.1 2498.6L954.6 2499.2L957.1 2499.7L959.7 2500.3L962.2 2500.9L964.7 2501.4L967.2 2502L969.8 2502.5L972.3 2503.1L974.8 2503.6L977.3 2504.2L979.9 2504.7L982.4 2505.2L984.9 2505.8L987.4 2506.3L990 2506.9L992.5 2507.4L995 2507.9L997.5 2508.5L1000 2509L1002.5 2509.5L1002.6 2509.5L1005.1 2510L1007.6 2510.6L1010.1 2511.1L1012.7 2511.6L1015.2 2512.1L1017.7 2512.7L1020.2 2513.2L1022.8 2513.7L1025.3 2514.2L1027.8 2514.7L1030.3 2515.2L1032.9 2515.8L1035.4 2516.3L1037.9 2516.8L1040.4 2517.3L1043 2517.8L1045.5 2518.3L1048 2518.8L1050.5 2519.3L1053.1 2519.8L1055.6 2520.3L1058.1 2520.8L1060.6 2521.3L1063.2 2521.8L1065.7 2522.3L1068.2 2522.8L1070.7 2523.3L1073.3 2523.8L1075.8 2524.3L1078.3 2524.8L1080.8 2525.3L1083.3 2525.7L1085.9 2526.2L1088.4 2526.7L1090.9 2527.2L1093.4 2527.7L1096 2528.2L1098.5 2528.6L1101 2529.1L1103.5 2529.6L1106.1 2530.1L1108.6 2530.5L1111.1 2531L1113.6 2531.5L1116.2 2532L1118.7 2532.4L1121.2 2532.9L1123.7 2533.4L1126.3 2533.8L1128.8 2534.3L1131.3 2534.8L1133.8 2535.2L1136.4 2535.7L1138.9 2536.2L1141.4 2536.6L1143.9 2537.1L1146.5 2537.5L1149 2538L1151.5 2538.5L1154 2538.9L1156.6 2539.4L1159.1 2539.8L1161.6 2540.3L1164.1 2540.7L1166.6 2541.2L1169.2 2541.6L1171.7 2542.1L1174.2 2542.5L1176.7 2543L1179.3 2543.4L1181.8 2543.9L1184.3 2544.3L1186.8 2544.8L1189.4 2545.2L1191.9 2545.6L1194.4 2546.1L1196.9 2546.5L1199.5 2547L1202 2547.4L1204.5 2547.8L1207 2548.3L1209.6 2548.7L1212.1 2549.1L1214.6 2549.6L1217.1 2550L1219.7 2550.4L1222.2 2550.9L1224.7 2551.3L1227.2 2551.7L1229.8 2552.2L1232.3 2552.6L1234.8 2553L1237.3 2553.4L1239.9 2553.9L1242.4 2554.3L1244.9 2554.7L1247.4 2555.1L1249.9 2555.5L1252.5 2556L1255 2556.4L1257.5 2556.8L1260 2557.2L1262.6 2557.6L1265.1 2558.1L1267.6 2558.5L1270.1 2558.9L1272.7 2559.3L1275.2 2559.7L1277.7 2560.1L1280.2 2560.5L1282.8 2561L1285.3 2561.4L1287.8 2561.8L1290.3 2562.2L1292.9 2562.6L1295.4 2563L1297.9 2563.4L1300.4 2563.8L1303 2564.2L1305.5 2564.6L1308 2565L1310.5 2565.4L1313.1 2565.8L1315.6 2566.2L1318.1 2566.6L1320.6 2567L1323.2 2567.4L1325.7 2567.8L1328.2 2568.2L1330.7 2568.6L1333.2 2569L1335.8 2569.4L1338.3 2569.8L1340.8 2570.2L1343.3 2570.6L1345.9 2571L1348.4 2571.4L1350.9 2571.8L1353.4 2572.2L1356 2572.6L1358.5 2573L1361 2573.4L1363.5 2573.8L1366.1 2574.2L1368.6 2574.6L1371.1 2575L1373.6 2575.3L1376.2 2575.7L1378.7 2576.1L1381.2 2576.5L1383.7 2576.9L1386.3 2577.3L1388.8 2577.7L1391.3 2578.1L1393.8 2578.4L1396.4 2578.8L1398.9 2579.2L1401.4 2579.6L1403.9 2580L1406.5 2580.4L1409 2580.7L1411.5 2581.1L1414 2581.5L1416.5 2581.9L1419.1 2582.3L1421.6 2582.7L1424.1 2583L1426.6 2583.4L1429.2 2583.8L1431.7 2584.2L1434.2 2584.6L1436.7 2584.9L1439.3 2585.3L1441.8 2585.7L1444.3 2586.1L1446.8 2586.5L1449.4 2586.8L1451.9 2587.2L1454.4 2587.6L1456.9 2588L1459.5 2588.3L1462 2588.7L1464.5 2589.1L1467 2589.5L1469.6 2589.8L1472.1 2590.2L1474.6 2590.6L1477.1 2591L1479.7 2591.3L1482.2 2591.7L1484.7 2592.1L1487.2 2592.5L1489.8 2592.8L1492.3 2593.2L1494.8 2593.6L1497.3 2593.9L1499.8 2594.3L1502.4 2594.7L1504.9 2595.1L1507.4 2595.4L1509.9 2595.8L1512.5 2596.2L1515 2596.6L1517.5 2596.9L1520 2597.3L1522.6 2597.7L1525.1 2598L1527.6 2598.4L1530.1 2598.8L1532.7 2599.1L1535.2 2599.5L1537.7 2599.9L1540.2 2600.3L1542.8 2600.6L1545.3 2601L1547.8 2601.4L1550.3 2601.7L1552.9 2602.1L1555.4 2602.5L1557.9 2602.8L1560.4 2603.2L1563 2603.6L1565.5 2604L1568 2604.3L1570.5 2604.7L1573.1 2605.1L1575.6 2605.4L1578.1 2605.8" fill="none" stroke="#767676" stroke-width="9" stroke-linejoin="round" stroke-linecap="round"/>
<circle cx="257.6" cy="2391.3" r="13.8"/><circle cx="253.8" cy="2387.5" r="7.3" fill="url(#hl)"/>
<circle cx="262" cy="2393.5" r="13.8"/><circle cx="258.2" cy="2389.7" r="7.3" fill="url(#hl)"/>
<circle cx="266.2" cy="2435" r="13.8"/><circle cx="262.4" cy="2431.2" r="7.3" fill="url(#hl)"/>
<circle cx="268.5" cy="2395.5" r="13.8"/><circle cx="264.7" cy="2391.7" r="7.3" fill="url(#hl)"/>
<circle cx="273.5" cy="2397" r="13.8"/><circle cx="269.7" cy="2393.2" r="7.3" fill="url(#hl)"/>
<circle cx="279" cy="2400" r="13.8"/><circle cx="275.2" cy="2396.2" r="7.3" fill="url(#hl)"/>
<circle cx="318.5" cy="2365.5" r="13.8"/><circle cx="314.7" cy="2361.7" r="7.3" fill="url(#hl)"/>
<circle cx="346.7" cy="2318.8" r="13.8"/><circle cx="342.9" cy="2315" r="7.3" fill="url(#hl)"/>
<circle cx="391" cy="2277" r="13.8"/><circle cx="387.2" cy="2273.2" r="7.3" fill="url(#hl)"/>
<circle cx="444" cy="2199" r="13.8"/><circle cx="440.2" cy="2195.2" r="7.3" fill="url(#hl)"/>
<circle cx="520" cy="2256.7" r="13.8"/><circle cx="516.2" cy="2252.9" r="7.3" fill="url(#hl)"/>
<circle cx="571.5" cy="2359" r="13.8"/><circle cx="567.7" cy="2355.2" r="7.3" fill="url(#hl)"/>
<circle cx="648.5" cy="2408.5" r="13.8"/><circle cx="644.7" cy="2404.7" r="7.3" fill="url(#hl)"/>
<circle cx="771" cy="2448.8" r="13.8"/><circle cx="767.2" cy="2445" r="7.3" fill="url(#hl)"/>
<circle cx="1002.5" cy="2509.5" r="13.8"/><circle cx="998.7" cy="2505.7" r="7.3" fill="url(#hl)"/>
<circle cx="1578.1" cy="2605.8" r="13.8"/><circle cx="1574.3" cy="2602" r="7.3" fill="url(#hl)"/>
</g>
<g fill="#fd3d3d">
<path d="M256.4 2348.3L270 2277L281 2281L293.9 2288L301.3 2298L316 2312.7L340 2256L342.3 2249L344.6 2241.9L346.9 2234.9L349.1 2227.9L351.4 2220.9L353.7 2213.8L356 2206.8L358.3 2199.7L360.6 2192.7L362.9 2185.6L365.1 2178.6L367.4 2171.5L369.7 2164.4L372 2157.3L374.3 2150.2L376.6 2143.1L378.9 2136L381.1 2128.9L383.4 2121.7L383.6 2121.2L385.7 2114.6L388 2107.4L390.3 2100.3L392.6 2093.1L394.9 2086L397.1 2078.9L399.4 2071.9L401.7 2064.9L404 2057.9L406.3 2051L408.6 2044.2L410.9 2037.5L413.1 2030.8L415.4 2024.3L417.7 2017.9L420 2011.5L422.3 2005.4L424.6 1999.3L426.9 1993.4L429.1 1987.6L431.4 1982L433.7 1976.5L436 1971.3L438.3 1966.2L438.6 1965.5L440.6 1961.3L442.9 1956.6L445.1 1952.1L447.4 1947.8L449.7 1943.6L452 1939.7L454.3 1935.9L456.6 1932.4L458.9 1929L461.1 1925.8L463.4 1922.8L465.7 1920L468 1917.3L470.3 1914.8L472.6 1912.5L474.9 1910.4L477.1 1908.5L479.4 1906.7L481.7 1905.2L484 1903.7L486.3 1902.5L488.6 1901.4L490.9 1900.5L493.1 1899.8L495.4 1899.3L497.7 1898.9L500 1898.6L500.8 1898.6L502.3 1898.6L504.6 1898.7L506.9 1898.9L509.1 1899.3L511.4 1899.9L513.7 1900.6L516 1901.5L518.3 1902.4L520.6 1903.5L522.9 1904.8L525.1 1906.2L527.4 1907.6L529.7 1909.2L532 1911L534.3 1912.8L536.6 1914.7L538.9 1916.7L541.1 1918.8L543.4 1921L545.7 1923.3L548 1925.7L550.3 1928.2L552.6 1930.7L554.9 1933.3L557.1 1935.9L559.4 1938.6L561.7 1941.4L563 1943L564 1944.3L566.3 1947.1L568.6 1950.1L570.9 1953L573.1 1956L575.4 1959.1L577.7 1962.2L580 1965.4L582.3 1968.6L584.6 1971.8L586.9 1975.1L589.1 1978.4L591.4 1981.7L593.7 1985.1L596 1988.5L598.3 1992L600.6 1995.5L602.9 1999L605.1 2002.5L607.4 2006.1L609.7 2009.7L612 2013.4L614.3 2017L616.6 2020.7L618.9 2024.4L621.1 2028.1L623.4 2031.9L625.7 2035.6L628 2039.4L630.3 2043.2L632.6 2047.1L634.9 2050.9L637.2 2054.8L639.4 2058.6L641.7 2062.5L644 2066.4L646.3 2070.3L648.6 2074.2L650.9 2078.1L653.2 2082L655.4 2086L657.7 2089.9L660 2093.8L662.3 2097.8L664.6 2101.7L666.9 2105.6L669.2 2109.6L671.4 2113.5L673.7 2117.4L676 2121.4L678.3 2125.3L680.6 2129.2L682.9 2133.1L685.2 2137L687.4 2140.9L689.7 2144.7L692 2148.6L694.3 2152.4L696.6 2156.3L698.9 2160.1L701.2 2163.9L703.4 2167.7L705.7 2171.4L708 2175.2L710.3 2178.9L712.6 2182.6L714.9 2186.2L717.2 2189.9L719.4 2193.5L721.7 2197.1L724 2200.6L726.3 2204.2L728.6 2207.7L730.9 2211.2L733.2 2214.6L735.4 2218L737.7 2221.4L740 2224.7L742.3 2228L744.6 2231.2L746.9 2234.4L749.2 2237.6L751.4 2240.7L753.7 2243.8L756 2246.9L758.3 2249.9L760.6 2252.8L762.7 2255.5L762.9 2255.7L765.2 2258.6L767.4 2261.4L769.7 2264.1L772 2266.8L774.3 2269.5L776.6 2272.1L778.9 2274.7L781.2 2277.2L783.4 2279.7L785.7 2282.1L788 2284.5L790.3 2286.9L792.6 2289.2L794.9 2291.4L797.2 2293.7L799.4 2295.9L801.7 2298L804 2300.1L806.3 2302.2L808.6 2304.2L810.9 2306.2L813.2 2308.1L815.4 2310.1L817.7 2311.9L820 2313.8L822.3 2315.6L824.6 2317.4L826.9 2319.1L829.2 2320.8L831.4 2322.5L833.7 2324.1L836 2325.7L838.3 2327.3L840.6 2328.8L842.9 2330.4L845.2 2331.9L847.4 2333.3L849.7 2334.7L852 2336.1L854.3 2337.5L856.6 2338.9L858.9 2340.2L861.2 2341.5L863.4 2342.7L865.7 2344L868 2345.2L870.3 2346.4L872.6 2347.6L874.9 2348.7L877.2 2349.9L879.4 2351L881.7 2352.1L884 2353.1L886.3 2354.2L888.6 2355.2L890.9 2356.2L893.2 2357.2L895.4 2358.2L897.7 2359.1L900 2360.1L902.3 2361L904.6 2361.9L906.9 2362.8L909.2 2363.7L911.4 2364.6L913.7 2365.4L916 2366.3L918.3 2367.1L920.6 2367.9L922.9 2368.7L925.2 2369.5L927.4 2370.3L929.7 2371.1L932 2371.8L934.3 2372.6L936.6 2373.3L938.9 2374.1L941.2 2374.8L943.4 2375.6L945.7 2376.3L948 2377L950.3 2377.7L952.6 2378.4L954.9 2379.2L957.2 2379.9L959.4 2380.6L961.7 2381.3L964 2382L966.3 2382.7L968.3 2383.3L968.6 2383.4L970.9 2384.1L973.2 2384.8L975.4 2385.5L977.7 2386.2L980 2386.9L982.3 2387.6L984.6 2388.3L986.9 2389L989.2 2389.7L991.4 2390.5L993.7 2391.2L996 2391.9L998.3 2392.6L1000.6 2393.3L1002.9 2394L1005.2 2394.7L1007.4 2395.4L1009.7 2396.1L1012 2396.9L1014.3 2397.6L1016.6 2398.3L1018.9 2399L1021.2 2399.7L1023.4 2400.4L1025.7 2401.2L1028 2401.9L1030.3 2402.6L1032.6 2403.3L1034.9 2404L1037.2 2404.7L1039.4 2405.5L1041.7 2406.2L1044 2406.9L1046.3 2407.6L1048.6 2408.4L1050.9 2409.1L1053.2 2409.8L1055.4 2410.5L1057.7 2411.2L1060 2412L1062.3 2412.7L1064.6 2413.4L1066.9 2414.1L1069.2 2414.9L1071.4 2415.6L1073.7 2416.3L1076 2417.1L1078.3 2417.8L1080.6 2418.5L1082.9 2419.2L1085.2 2420L1087.4 2420.7L1089.7 2421.4L1092 2422.2L1094.3 2422.9L1096.6 2423.6L1098.9 2424.3L1101.2 2425.1L1103.4 2425.8L1105.7 2426.5L1108 2427.3L1110.3 2428L1112.6 2428.7L1114.9 2429.5L1117.2 2430.2L1119.4 2431L1121.7 2431.7L1124 2432.4L1126.3 2433.2L1128.6 2433.9L1130.9 2434.6L1133.2 2435.4L1135.4 2436.1L1137.7 2436.9L1140 2437.6L1142.3 2438.3L1144.6 2439.1L1146.9 2439.8L1149.2 2440.5L1151.4 2441.3L1153.7 2442L1156 2442.8L1158.3 2443.5L1160.6 2444.3L1162.9 2445L1165.2 2445.7L1167.4 2446.5L1169.7 2447.2L1172 2448L1174.3 2448.7L1176.6 2449.5L1178.9 2450.2L1181.2 2451L1183.4 2451.7L1185.7 2452.4L1188 2453.2L1190.3 2453.9L1192.6 2454.7L1194.9 2455.4L1197.2 2456.2L1199.5 2456.9L1201.7 2457.7L1204 2458.4L1206.3 2459.2L1208.6 2459.9L1210.9 2460.7L1213.2 2461.4L1215.5 2462.2L1217.7 2462.9L1220 2463.7L1222.3 2464.4L1224.6 2465.2L1226.9 2465.9L1229.2 2466.7L1231.5 2467.4L1233.7 2468.2L1236 2468.9L1238.3 2469.7L1240.6 2470.4L1242.9 2471.2L1245.2 2471.9L1247.5 2472.7L1249.7 2473.5L1252 2474.2L1254.3 2475L1256.6 2475.7L1258.9 2476.5L1261.2 2477.2L1263.5 2478L1265.7 2478.7L1268 2479.5L1270.3 2480.3L1272.6 2481L1274.9 2481.8L1277.2 2482.5L1279.5 2483.3L1281.7 2484L1284 2484.8L1286.3 2485.6L1288.6 2486.3L1290.9 2487.1L1293.2 2487.8L1295.5 2488.6L1297.7 2489.3L1300 2490.1L1302.3 2490.9L1304.6 2491.6L1306.9 2492.4L1309.2 2493.1L1311.5 2493.9L1313.7 2494.7L1316 2495.4L1318.3 2496.2L1320.6 2496.9L1322.9 2497.7L1325.2 2498.5L1327.5 2499.2L1329.7 2500L1332 2500.8L1334.3 2501.5L1336.6 2502.3L1338.9 2503L1341.2 2503.8L1343.5 2504.6L1345.7 2505.3L1348 2506.1L1350.3 2506.9L1352.6 2507.6L1354.9 2508.4L1357.2 2509.1L1359.5 2509.9L1361.7 2510.7L1364 2511.4L1366.3 2512.2L1368.6 2513L1370.9 2513.7L1373.2 2514.5L1375.5 2515.3L1377.7 2516L1380 2516.8L1382.3 2517.5L1384.6 2518.3L1386.9 2519.1L1389.2 2519.8L1391.5 2520.6L1393.7 2521.4L1396 2522.1L1398.3 2522.9L1400.6 2523.7L1402.9 2524.4L1405.2 2525.2L1407.5 2526L1409.7 2526.7L1412 2527.5L1414.3 2528.3L1416.6 2529L1418.9 2529.8L1421.2 2530.6L1423.5 2531.3L1425.7 2532.1L1428 2532.9L1430.3 2533.6L1432.6 2534.4L1434.9 2535.2L1437.2 2535.9L1439.5 2536.7L1441.7 2537.5L1444 2538.2L1446.3 2539L1448.6 2539.8L1450.9 2540.5L1453.2 2541.3L1455.5 2542.1L1457.7 2542.8L1460 2543.6L1462.3 2544.4L1464.6 2545.1L1466.9 2545.9L1469.2 2546.7L1471.5 2547.4L1473.7 2548.2L1476 2549L1478.3 2549.7L1480.6 2550.5" fill="none" stroke="#fd3d3d" stroke-width="9" stroke-linejoin="round" stroke-linecap="round"/>
<circle cx="256.4" cy="2348.3" r="13.8"/><circle cx="252.6" cy="2344.5" r="7.3" fill="url(#hl)"/>
<circle cx="270" cy="2277" r="13.8"/><circle cx="266.2" cy="2273.2" r="7.3" fill="url(#hl)"/>
<circle cx="281" cy="2281" r="13.8"/><circle cx="277.2" cy="2277.2" r="7.3" fill="url(#hl)"/>
<circle cx="293.9" cy="2288" r="13.8"/><circle cx="290.1" cy="2284.2" r="7.3" fill="url(#hl)"/>
<circle cx="301.3" cy="2298" r="13.8"/><circle cx="297.5" cy="2294.2" r="7.3" fill="url(#hl)"/>
<circle cx="316" cy="2312.7" r="13.8"/><circle cx="312.2" cy="2308.9" r="7.3" fill="url(#hl)"/>
<circle cx="340" cy="2256" r="13.8"/><circle cx="336.2" cy="2252.2" r="7.3" fill="url(#hl)"/>
<circle cx="383.6" cy="2121.2" r="13.8"/><circle cx="379.8" cy="2117.4" r="7.3" fill="url(#hl)"/>
<circle cx="438.6" cy="1965.5" r="13.8"/><circle cx="434.8" cy="1961.7" r="7.3" fill="url(#hl)"/>
<circle cx="563" cy="1943" r="13.8"/><circle cx="559.2" cy="1939.2" r="7.3" fill="url(#hl)"/>
<circle cx="762.7" cy="2255.5" r="13.8"/><circle cx="758.9" cy="2251.7" r="7.3" fill="url(#hl)"/>
<circle cx="968.3" cy="2383.3" r="13.8"/><circle cx="964.5" cy="2379.5" r="7.3" fill="url(#hl)"/>
<circle cx="1480.6" cy="2550.5" r="13.8"/><circle cx="1476.8" cy="2546.7" r="7.3" fill="url(#hl)"/>
</g>
<g fill="#006be0">
<path d="M260.1 2357L258.9 2317L270 2271.5L276.1 2286.9L282.2 2300.4L300.6 2331.1L317.2 2323.1L341.2 2344L343.5 2339.9L345.8 2335.8L348.1 2331.6L350.4 2327.5L352.7 2323.3L355 2319.1L357.3 2314.8L359.6 2310.5L361.9 2306.2L364.2 2301.8L366.6 2297.4L368.9 2292.8L371.2 2288.3L373.5 2283.6L375.8 2278.9L378.1 2274L380.4 2269.1L382.7 2264.1L385 2258.9L385.4 2258L387.3 2253.7L389.6 2248.3L391.9 2242.9L394.2 2237.3L396.5 2231.7L398.8 2226L401.1 2220.2L403.4 2214.4L405.7 2208.5L408 2202.6L410.3 2196.7L412.6 2190.7L415 2184.7L417.3 2178.7L419.6 2172.7L421.9 2166.7L424.2 2160.7L426.5 2154.8L428.8 2148.8L431.1 2143L433.4 2137.1L435.7 2131.3L436.8 2128.6L438 2125.6L440.3 2120L442.6 2114.4L444.9 2108.9L447.2 2103.5L449.5 2098.1L451.8 2092.8L454.1 2087.6L456.4 2082.4L458.7 2077.3L461.1 2072.3L463.4 2067.4L465.7 2062.5L468 2057.7L470.3 2053L472.6 2048.4L474.9 2043.8L477.2 2039.3L479.5 2034.8L481.8 2030.5L484.1 2026.2L486.4 2022L488.7 2017.9L491 2013.8L493.3 2009.8L495.6 2005.9L497.9 2002.1L500.2 1998.3L502.5 1994.6L504.8 1991L507.1 1987.5L509.5 1984L511.8 1980.6L514.1 1977.3L516.4 1974.1L518.7 1971L521 1967.9L523.3 1964.9L525.6 1962L527.9 1959.2L530.2 1956.4L532.5 1953.8L534.8 1951.2L537.1 1948.7L539.4 1946.2L541.7 1943.9L544 1941.6L546.3 1939.4L548.6 1937.3L550.9 1935.3L553.2 1933.3L555.5 1931.5L557.9 1929.7L560.2 1928L562.5 1926.4L564.8 1924.9L566.6 1923.7L567.1 1923.4L569.4 1922L571.7 1920.8L574 1919.6L576.3 1918.5L578.6 1917.4L580.9 1916.5L583.2 1915.6L585.5 1914.8L587.8 1914.1L590.1 1913.5L592.4 1913L594.7 1912.6L597 1912.2L599.3 1911.9L601.6 1911.7L603.9 1911.6L606.3 1911.6L608.6 1911.7L610.9 1911.8L613.2 1912L615.5 1912.3L617.8 1912.7L620.1 1913.2L622.4 1913.8L624.7 1914.4L627 1915.1L629.3 1915.9L631.6 1916.8L633.9 1917.8L636.2 1918.9L638.5 1920L640.8 1921.3L643 1922.5L643.1 1922.6L645.4 1924L647.7 1925.5L650 1927L652.3 1928.7L654.7 1930.4L657 1932.2L659.3 1934L661.6 1935.9L663.9 1937.9L666.2 1940L668.5 1942.1L670.8 1944.3L673.1 1946.6L675.4 1948.9L677.7 1951.3L680 1953.7L682.3 1956.2L684.6 1958.7L686.9 1961.3L689.2 1963.9L691.5 1966.6L693.8 1969.3L696.1 1972.1L698.4 1974.9L700.8 1977.7L703.1 1980.6L705.4 1983.5L707.7 1986.4L710 1989.4L712.3 1992.4L714.6 1995.4L716.9 1998.5L719.2 2001.6L721.5 2004.6L723.8 2007.8L726.1 2010.9L728.4 2014L730.7 2017.2L733 2020.4L735.3 2023.6L737.6 2026.8L739.9 2030L742.2 2033.2L744.5 2036.4L746.8 2039.6L749.2 2042.8L751.5 2046L753.8 2049.2L756.1 2052.3L758.4 2055.5L760.7 2058.7L763 2061.8L765.3 2065L767.6 2068.1L769 2070L769.9 2071.2L772.2 2074.3L774.5 2077.3L776.8 2080.4L779.1 2083.4L781.4 2086.4L783.7 2089.4L786 2092.4L788.3 2095.3L790.6 2098.3L792.9 2101.2L795.2 2104.1L797.6 2106.9L799.9 2109.8L802.2 2112.6L804.5 2115.4L806.8 2118.2L809.1 2121L811.4 2123.8L813.7 2126.5L816 2129.2L818.3 2132L820.6 2134.6L822.9 2137.3L825.2 2140L827.5 2142.6L829.8 2145.2L832.1 2147.8L834.4 2150.4L836.7 2153L839 2155.5L841.3 2158.1L843.6 2160.6L846 2163.1L848.3 2165.6L850.6 2168.1L852.9 2170.5L855.2 2173L857.5 2175.4L859.8 2177.8L862.1 2180.2L864.4 2182.6L866.7 2184.9L869 2187.3L871.3 2189.6L873.6 2191.9L875.9 2194.2L878.2 2196.5L880.5 2198.7L882.8 2201L885.1 2203.2L887.4 2205.5L889.7 2207.7L892 2209.9L894.4 2212L896.7 2214.2L899 2216.4L901.3 2218.5L903.6 2220.6L905.9 2222.7L908.2 2224.8L910.5 2226.9L912.8 2229L915.1 2231L917.4 2233.1L919.7 2235.1L922 2237.1L924.3 2239.1L926.6 2241.1L928.9 2243.1L931.2 2245L933.5 2247L935.8 2248.9L938.1 2250.8L940.5 2252.7L942.8 2254.6L945.1 2256.5L947.4 2258.4L949.7 2260.2L952 2262.1L954.3 2263.9L956.6 2265.8L958.9 2267.6L961.2 2269.4L963.5 2271.2L965.8 2273L968.1 2274.7L970.4 2276.5L972.7 2278.2L975 2280L977.3 2281.7L979.6 2283.4L981.8 2285L981.9 2285.1L984.2 2286.8L986.5 2288.5L988.9 2290.1L991.2 2291.8L993.5 2293.5L995.8 2295.1L998.1 2296.7L1000.4 2298.4L1002.7 2300L1005 2301.6L1007.3 2303.1L1009.6 2304.7L1011.9 2306.3L1014.2 2307.9L1016.5 2309.4L1018.8 2310.9L1021.1 2312.5L1023.4 2314L1025.7 2315.5L1028 2317L1030.3 2318.5L1032.6 2320L1034.9 2321.5L1037.3 2322.9L1039.6 2324.4L1041.9 2325.8L1044.2 2327.3L1046.5 2328.7L1048.8 2330.1L1051.1 2331.5L1053.4 2332.9L1055.7 2334.3L1058 2335.7L1060.3 2337L1062.6 2338.4L1064.9 2339.8L1067.2 2341.1L1069.5 2342.4L1071.8 2343.8L1074.1 2345.1L1076.4 2346.4L1078.7 2347.7L1081 2349L1083.3 2350.3L1085.7 2351.5L1088 2352.8L1090.3 2354.1L1092.6 2355.3L1094.9 2356.6L1097.2 2357.8L1099.5 2359L1101.8 2360.2L1104.1 2361.4L1106.4 2362.6L1108.7 2363.8L1111 2365L1113.3 2366.2L1115.6 2367.4L1117.9 2368.5L1120.2 2369.7L1122.5 2370.8L1124.8 2372L1127.1 2373.1L1129.4 2374.2L1131.7 2375.3L1134.1 2376.4L1136.4 2377.5L1138.7 2378.6L1141 2379.7L1143.3 2380.8L1145.6 2381.9L1147.9 2382.9L1150.2 2384L1152.5 2385L1154.8 2386.1L1157.1 2387.1L1159.4 2388.2L1161.7 2389.2L1164 2390.2L1166.3 2391.2L1168.6 2392.2L1170.9 2393.2L1173.2 2394.2L1175.5 2395.2L1177.8 2396.1L1180.2 2397.1L1182.5 2398.1L1184.8 2399L1187.1 2400L1189.4 2400.9L1191.7 2401.9L1194 2402.8L1196.3 2403.7L1198.6 2404.6L1200.9 2405.6L1203.2 2406.5L1205.5 2407.4L1207.8 2408.3L1210.1 2409.1L1212.4 2410L1214.7 2410.9L1217 2411.8L1219.3 2412.6L1221.6 2413.5L1223.9 2414.4L1226.2 2415.2L1228.6 2416.1L1230.9 2416.9L1233.2 2417.7L1235.5 2418.5L1237.8 2419.4L1240.1 2420.2L1242.4 2421L1244.7 2421.8L1247 2422.6L1249.3 2423.4L1251.6 2424.2L1253.9 2425L1256.2 2425.8L1258.5 2426.5L1260.8 2427.3L1263.1 2428.1L1265.4 2428.8L1267.7 2429.6L1270 2430.4L1272.3 2431.1L1274.6 2431.8L1277 2432.6L1279.3 2433.3L1281.6 2434L1283.9 2434.8L1286.2 2435.5L1288.5 2436.2L1290.8 2436.9L1293.1 2437.6L1295.4 2438.3L1297.7 2439L1300 2439.7L1302.3 2440.4L1304.6 2441.1L1306.9 2441.8L1309.2 2442.5L1311.5 2443.2L1313.8 2443.8L1316.1 2444.5L1318.4 2445.2L1320.7 2445.8L1323 2446.5L1325.4 2447.2L1327.7 2447.8L1330 2448.5L1332.3 2449.1L1334.6 2449.7L1336.9 2450.4L1339.2 2451L1341.5 2451.6L1343.8 2452.3L1346.1 2452.9L1348.4 2453.5L1350.7 2454.1L1353 2454.8L1355.3 2455.4L1357.6 2456L1359.9 2456.6L1362.2 2457.2L1364.5 2457.8L1366.8 2458.4L1369.1 2459L1371.4 2459.6L1373.8 2460.2L1376.1 2460.8L1378.4 2461.4L1380.7 2462L1383 2462.6L1385.3 2463.1L1387.6 2463.7L1389.9 2464.3L1392.2 2464.9L1394.5 2465.4L1396.8 2466L1399.1 2466.6L1401.4 2467.1L1403.7 2467.7L1406 2468.3L1408.3 2468.8L1410.6 2469.4L1412.9 2470L1415.2 2470.5L1417.5 2471.1L1419.9 2471.6L1422.2 2472.2L1424.5 2472.7L1426.8 2473.3L1429.1 2473.8L1431.4 2474.4L1433.7 2474.9L1436 2475.5L1438.3 2476L1440.6 2476.6L1442.9 2477.1L1445.2 2477.6L1447.5 2478.2L1449.8 2478.7L1452.1 2479.2L1454.4 2479.8L1456.7 2480.3L1459 2480.9L1461.3 2481.4L1463.6 2481.9L1465.9 2482.5L1468.3 2483L1470.6 2483.5L1472.9 2484.1L1475.2 2484.6L1477.5 2485.1L1479.8 2485.6L1482.1 2486.2L1484.4 2486.7L1486.7 2487.2L1489 2487.8L1491.3 2488.3" fill="none" stroke="#006be0" stroke-width="9" stroke-linejoin="round" stroke-linecap="round"/>
<circle cx="260.1" cy="2357" r="13.8"/><circle cx="256.3" cy="2353.2" r="7.3" fill="url(#hl)"/>
<circle cx="258.9" cy="2317" r="13.8"/><circle cx="255.1" cy="2313.2" r="7.3" fill="url(#hl)"/>
<circle cx="270" cy="2271.5" r="13.8"/><circle cx="266.2" cy="2267.7" r="7.3" fill="url(#hl)"/>
<circle cx="276.1" cy="2286.9" r="13.8"/><circle cx="272.3" cy="2283.1" r="7.3" fill="url(#hl)"/>
<circle cx="282.2" cy="2300.4" r="13.8"/><circle cx="278.4" cy="2296.6" r="7.3" fill="url(#hl)"/>
<circle cx="300.6" cy="2331.1" r="13.8"/><circle cx="296.8" cy="2327.3" r="7.3" fill="url(#hl)"/>
<circle cx="317.2" cy="2323.1" r="13.8"/><circle cx="313.4" cy="2319.3" r="7.3" fill="url(#hl)"/>
<circle cx="341.2" cy="2344" r="13.8"/><circle cx="337.4" cy="2340.2" r="7.3" fill="url(#hl)"/>
<circle cx="385.4" cy="2258" r="13.8"/><circle cx="381.6" cy="2254.2" r="7.3" fill="url(#hl)"/>
<circle cx="436.8" cy="2128.6" r="13.8"/><circle cx="433" cy="2124.8" r="7.3" fill="url(#hl)"/>
<circle cx="566.6" cy="1923.7" r="13.8"/><circle cx="562.8" cy="1919.9" r="7.3" fill="url(#hl)"/>
<circle cx="643" cy="1922.5" r="13.8"/><circle cx="639.2" cy="1918.7" r="7.3" fill="url(#hl)"/>
<circle cx="769" cy="2070" r="13.8"/><circle cx="765.2" cy="2066.2" r="7.3" fill="url(#hl)"/>
<circle cx="981.8" cy="2285" r="13.8"/><circle cx="978" cy="2281.2" r="7.3" fill="url(#hl)"/>
<circle cx="1491.3" cy="2488.3" r="13.8"/><circle cx="1487.5" cy="2484.5" r="7.3" fill="url(#hl)"/>
</g>
<g fill="#00ab64">
<path d="M260.1 2371L270 2363L279 2364L288 2362L301.3 2370.4L316 2380.3L340.6 2300.4L343 2295.2L345.4 2290.1L347.8 2284.9L350.1 2279.7L352.5 2274.4L354.9 2269L357.3 2263.6L359.7 2258L362.1 2252.4L364.5 2246.6L366.9 2240.6L369.2 2234.6L371.6 2228.3L374 2221.9L376.4 2215.3L378.8 2208.4L381.2 2201.4L383.6 2194.1L385.5 2188L386 2186.5L388.3 2178.7L390.7 2170.7L393.1 2162.5L395.5 2154.1L397.9 2145.5L400.3 2136.8L402.7 2128.1L405.1 2119.2L407.4 2110.4L409.8 2101.5L412.2 2092.7L414.6 2083.9L417 2075.2L419.4 2066.6L421.8 2058.1L424.2 2049.8L426.5 2041.6L428.9 2033.7L431.3 2026.1L433.7 2018.7L436.1 2011.6L436.3 2011L438.5 2004.9L440.9 1998.4L443.2 1992.4L445.6 1986.6L448 1981.2L450.4 1976.1L452.8 1971.4L455.2 1967L457.6 1963L460 1959.3L462.3 1955.9L464.7 1952.9L467.1 1950.3L469.5 1947.9L471.9 1946L474.3 1944.4L476.7 1943.1L479.1 1942.2L481.4 1941.7L483.8 1941.5L486.2 1941.7L486.3 1941.7L488.6 1942.2L491 1943.1L493.4 1944.4L495.8 1946.1L498.2 1948.1L500.5 1950.6L502.9 1953.5L505.3 1956.7L507.7 1960.5L510.1 1964.6L512.5 1969.2L514.9 1974.2L516.4 1977.7L517.3 1979.7L519.6 1985.7L522 1992L524.4 1998.7L526.8 2005.8L529.2 2013.1L531.6 2020.6L534 2028.4L536.3 2036.3L538.7 2044.3L541.1 2052.4L543.5 2060.5L545.9 2068.6L548.3 2076.7L550.7 2084.7L553.1 2092.5L555.4 2100.1L557.8 2107.6L560.2 2114.7L562.6 2121.6L565 2128.1L567.3 2134L567.4 2134.2L569.8 2139.9L572.2 2145.2L574.5 2150.1L576.9 2154.6L579.3 2158.7L581.7 2162.5L584.1 2166L586.5 2169.1L588.9 2172L591.3 2174.6L593.6 2176.9L596 2178.9L598.4 2180.7L600.8 2182.3L603.2 2183.7L605.6 2185L608 2186L610.4 2186.9L612.7 2187.7L615.1 2188.3L617.5 2188.9L619.9 2189.3L622.3 2189.7L624.7 2190L627.1 2190.3L629.4 2190.6L631.8 2190.9L634.2 2191.2L636.6 2191.5L639 2191.8L641.4 2192.2L642.7 2192.5L643.8 2192.7L646.2 2193.3L648.5 2194L650.9 2194.7L653.3 2195.5L655.7 2196.4L658.1 2197.4L660.5 2198.5L662.9 2199.6L665.3 2200.8L667.6 2202L670 2203.3L672.4 2204.7L674.8 2206.2L677.2 2207.7L679.6 2209.2L682 2210.9L684.4 2212.5L686.7 2214.3L689.1 2216L691.5 2217.9L693.9 2219.7L696.3 2221.7L698.7 2223.6L701.1 2225.6L703.5 2227.6L705.8 2229.7L708.2 2231.8L710.6 2234L713 2236.1L715.4 2238.3L717.8 2240.6L720.2 2242.8L722.5 2245.1L724.9 2247.4L727.3 2249.7L729.7 2252L732.1 2254.4L734.5 2256.7L736.9 2259.1L739.3 2261.5L741.6 2263.8L744 2266.2L746.4 2268.6L748.8 2271L751.2 2273.4L753.6 2275.8L756 2278.2L756.6 2278.8L758.4 2280.5L760.7 2282.9L763.1 2285.3L765.5 2287.6L767.9 2290L770.3 2292.3L772.7 2294.7L775.1 2297L777.5 2299.3L779.8 2301.6L782.2 2303.9L784.6 2306.2L787 2308.5L789.4 2310.8L791.8 2313L794.2 2315.3L796.6 2317.6L798.9 2319.8L801.3 2322.1L803.7 2324.3L806.1 2326.5L808.5 2328.7L810.9 2330.9L813.3 2333.1L815.6 2335.3L818 2337.5L820.4 2339.7L822.8 2341.8L825.2 2344L827.6 2346.1L830 2348.3L832.4 2350.4L834.7 2352.5L837.1 2354.6L839.5 2356.7L841.9 2358.8L844.3 2360.9L846.7 2363L849.1 2365L851.5 2367.1L853.8 2369.1L856.2 2371.2L858.6 2373.2L861 2375.2L863.4 2377.2L865.8 2379.2L868.2 2381.2L870.6 2383.2L872.9 2385.1L875.3 2387.1L877.7 2389L880.1 2391L882.5 2392.9L884.9 2394.8L887.3 2396.7L889.7 2398.6L892 2400.5L894.4 2402.4L896.8 2404.3L899.2 2406.1L901.6 2408L904 2409.8L906.4 2411.6L908.7 2413.4L911.1 2415.2L913.5 2417L915.9 2418.8L918.3 2420.6L920.7 2422.3L923.1 2424.1L925.5 2425.8L927.8 2427.5L930.2 2429.3L932.6 2431L935 2432.7L937.4 2434.3L939.8 2436L942.2 2437.7L944.6 2439.3L946.9 2440.9L949.3 2442.6L951.7 2444.2L954.1 2445.8L956.5 2447.4L958.9 2448.9L961.3 2450.5L963.7 2452L966 2453.6L968.4 2455.1L970.8 2456.6L973.2 2458.1L975.6 2459.6L978 2461.1L980.4 2462.6L982.7 2464L984.7 2465.2L985.1 2465.5L987.5 2466.9L989.9 2468.3L992.3 2469.7L994.7 2471.1L997.1 2472.5L999.5 2473.8L1001.8 2475.2L1004.2 2476.5L1006.6 2477.9L1009 2479.2L1011.4 2480.5L1013.8 2481.8L1016.2 2483.1L1018.6 2484.3L1020.9 2485.6L1023.3 2486.9L1025.7 2488.1L1028.1 2489.3L1030.5 2490.5L1032.9 2491.7L1035.3 2492.9L1037.7 2494.1L1040 2495.3L1042.4 2496.4L1044.8 2497.6L1047.2 2498.7L1049.6 2499.8L1052 2500.9L1054.4 2502L1056.8 2503.1L1059.1 2504.2L1061.5 2505.3L1063.9 2506.3L1066.3 2507.4L1068.7 2508.4L1071.1 2509.4L1073.5 2510.4L1075.8 2511.4L1078.2 2512.4L1080.6 2513.4L1083 2514.4L1085.4 2515.4L1087.8 2516.3L1090.2 2517.2L1092.6 2518.2L1094.9 2519.1L1097.3 2520L1099.7 2520.9L1102.1 2521.8L1104.5 2522.7L1106.9 2523.6L1109.3 2524.4L1111.7 2525.3L1114 2526.1L1116.4 2527L1118.8 2527.8L1121.2 2528.6L1123.6 2529.4L1126 2530.2L1128.4 2531L1130.8 2531.8L1133.1 2532.5L1135.5 2533.3L1137.9 2534L1140.3 2534.8L1142.7 2535.5L1145.1 2536.2L1147.5 2536.9L1149.9 2537.6L1152.2 2538.3L1154.6 2539L1157 2539.7L1159.4 2540.4L1161.8 2541L1164.2 2541.7L1166.6 2542.3L1168.9 2543L1171.3 2543.6L1173.7 2544.2L1176.1 2544.8L1178.5 2545.4L1180.9 2546L1183.3 2546.6L1185.7 2547.2L1188 2547.8L1190.4 2548.3L1192.8 2548.9L1195.2 2549.4L1197.6 2550L1200 2550.5L1202.4 2551L1204.8 2551.6L1207.1 2552.1L1209.5 2552.6L1211.9 2553.1L1214.3 2553.6L1216.7 2554L1219.1 2554.5L1221.5 2555L1223.9 2555.4L1226.2 2555.9L1228.6 2556.3L1231 2556.8L1233.4 2557.2L1235.8 2557.6L1238.2 2558L1240.6 2558.5L1243 2558.9L1245.3 2559.3L1247.7 2559.7L1250.1 2560L1252.5 2560.4L1254.9 2560.8L1257.3 2561.2L1259.7 2561.5L1262 2561.9L1264.4 2562.2L1266.8 2562.6L1269.2 2562.9L1271.6 2563.2L1274 2563.5L1276.4 2563.9L1278.8 2564.2L1281.1 2564.5L1283.5 2564.8L1285.9 2565.1L1288.3 2565.4L1290.7 2565.6L1293.1 2565.9L1295.5 2566.2L1297.9 2566.4L1300.2 2566.7L1302.6 2567L1305 2567.2L1307.4 2567.5L1309.8 2567.7L1312.2 2567.9L1314.6 2568.2L1317 2568.4L1319.3 2568.6L1321.7 2568.8L1324.1 2569L1326.5 2569.2L1328.9 2569.4L1331.3 2569.6L1333.7 2569.8L1336.1 2570L1338.4 2570.2L1340.8 2570.4L1343.2 2570.5L1345.6 2570.7L1348 2570.9L1350.4 2571L1352.8 2571.2L1355.1 2571.4L1357.5 2571.5L1359.9 2571.6L1362.3 2571.8L1364.7 2571.9L1367.1 2572.1L1369.5 2572.2L1371.9 2572.3L1374.2 2572.4L1376.6 2572.5L1379 2572.7L1381.4 2572.8L1383.8 2572.9L1386.2 2573L1388.6 2573.1L1391 2573.2L1393.3 2573.3L1395.7 2573.4L1398.1 2573.5L1400.5 2573.5L1402.9 2573.6L1405.3 2573.7L1407.7 2573.8L1410.1 2573.9L1412.4 2573.9L1414.8 2574L1417.2 2574.1L1419.6 2574.1L1422 2574.2L1424.4 2574.2L1426.8 2574.3L1429.2 2574.3L1431.5 2574.4L1433.9 2574.4L1436.3 2574.5L1438.7 2574.5L1441.1 2574.6L1443.5 2574.6L1445.9 2574.6L1448.2 2574.7L1450.6 2574.7L1453 2574.7L1455.4 2574.8L1457.8 2574.8L1460.2 2574.8L1462.6 2574.9L1465 2574.9L1467.3 2574.9L1469.7 2574.9L1472.1 2574.9L1474.5 2575L1476.9 2575L1479.3 2575L1481.7 2575L1484.1 2575L1486.4 2575L1488.8 2575L1491.2 2575L1493.6 2575.1L1496 2575.1L1498.4 2575.1L1500.8 2575.1L1503.2 2575.1L1505.5 2575.1L1507.9 2575.1L1510.3 2575.1L1512.7 2575.1L1515.1 2575.1L1517.5 2575.1L1519.9 2575.1L1522.3 2575.1L1524.6 2575.1L1527 2575.1L1529.4 2575.1L1531.8 2575.1" fill="none" stroke="#00ab64" stroke-width="9" stroke-linejoin="round" stroke-linecap="round"/>
<circle cx="260.1" cy="2371" r="13.8"/><circle cx="256.3" cy="2367.2" r="7.3" fill="url(#hl)"/>
<circle cx="270" cy="2363" r="13.8"/><circle cx="266.2" cy="2359.2" r="7.3" fill="url(#hl)"/>
<circle cx="279" cy="2364" r="13.8"/><circle cx="275.2" cy="2360.2" r="7.3" fill="url(#hl)"/>
<circle cx="288" cy="2362" r="13.8"/><circle cx="284.2" cy="2358.2" r="7.3" fill="url(#hl)"/>
<circle cx="301.3" cy="2370.4" r="13.8"/><circle cx="297.5" cy="2366.6" r="7.3" fill="url(#hl)"/>
<circle cx="316" cy="2380.3" r="13.8"/><circle cx="312.2" cy="2376.5" r="7.3" fill="url(#hl)"/>
<circle cx="340.6" cy="2300.4" r="13.8"/><circle cx="336.8" cy="2296.6" r="7.3" fill="url(#hl)"/>
<circle cx="385.5" cy="2188" r="13.8"/><circle cx="381.7" cy="2184.2" r="7.3" fill="url(#hl)"/>
<circle cx="436.3" cy="2011" r="13.8"/><circle cx="432.5" cy="2007.2" r="7.3" fill="url(#hl)"/>
<circle cx="516.4" cy="1977.7" r="13.8"/><circle cx="512.6" cy="1973.9" r="7.3" fill="url(#hl)"/>
<circle cx="567.3" cy="2134" r="13.8"/><circle cx="563.5" cy="2130.2" r="7.3" fill="url(#hl)"/>
<circle cx="642.7" cy="2192.5" r="13.8"/><circle cx="638.9" cy="2188.7" r="7.3" fill="url(#hl)"/>
<circle cx="756.6" cy="2278.8" r="13.8"/><circle cx="752.8" cy="2275" r="7.3" fill="url(#hl)"/>
<circle cx="984.7" cy="2465.2" r="13.8"/><circle cx="980.9" cy="2461.4" r="7.3" fill="url(#hl)"/>
<circle cx="1531.8" cy="2575.1" r="13.8"/><circle cx="1528" cy="2571.3" r="7.3" fill="url(#hl)"/>
</g>
<g fill="#c27ae1">
<path d="M262.9 2208.9L270.5 2360.6L276.1 2372.9L282.8 2381.5L291.4 2408.5L302.5 2394.4L319.1 2397.5L344.9 2376.6L347.3 2367.5L349.7 2358.5L352 2349.4L354.4 2340.4L356.8 2331.4L359.2 2322.4L361.6 2313.5L364 2304.6L366.3 2295.8L368.7 2287L371.1 2278.3L373.5 2269.7L375.9 2261.2L378.3 2252.7L380.6 2244.4L383 2236.1L385.4 2228L387.8 2220L390.2 2212.1L390.5 2211L392.6 2204.3L394.9 2196.6L397.3 2189.1L399.7 2181.6L402.1 2174.1L404.5 2166.7L406.9 2159.3L409.2 2151.8L411.6 2144.3L414 2136.7L416.4 2129.1L418.8 2121.3L421.2 2113.4L423.5 2105.4L425.9 2097.2L428.3 2088.8L430.7 2080.1L433.1 2071.2L435.5 2062.1L437.8 2052.6L440.2 2042.9L442.6 2032.8L444.5 2024.5L445 2022.3L447.4 2011.5L449.8 2000.4L452.1 1989L454.5 1977.4L456.9 1965.5L459.3 1953.5L461.7 1941.4L464 1929.2L466.4 1917L468.8 1904.8L471.2 1892.6L473.6 1880.6L476 1868.6L478.3 1856.9L480.7 1845.3L483.1 1834L485.5 1823L485.7 1822.1L487.9 1812.4L490.3 1802.1L492.6 1792.1L495 1782.4L497.4 1773.1L499.8 1764.1L502.2 1755.4L504.6 1747L506.9 1739L509.3 1731.2L511.7 1723.7L514.1 1716.5L516.5 1709.7L518.9 1703L521.2 1696.7L523.6 1690.6L526 1684.9L528.4 1679.3L530.8 1674L533.2 1669L535.5 1664.3L537.9 1659.7L540.3 1655.4L542.7 1651.4L545.1 1647.6L547.5 1644L549.8 1640.6L552.2 1637.4L554.6 1634.5L557 1631.7L559.4 1629.2L561.7 1626.8L564.1 1624.6L566.5 1622.7L568.9 1620.9L571.3 1619.2L573.7 1617.8L576 1616.5L578.4 1615.4L578.6 1615.3L580.8 1614.4L583.2 1613.6L585.6 1613L588 1612.5L590.3 1612.1L592.7 1611.9L595.1 1611.9L597.5 1612L599.9 1612.3L602.3 1612.8L604.6 1613.4L607 1614.1L609.4 1615L611.8 1616.1L614.2 1617.3L616.6 1618.7L618.9 1620.3L621.3 1621.9L623.7 1623.8L626.1 1625.8L628.5 1628L630.9 1630.3L633.2 1632.7L635.6 1635.4L638 1638.2L640.4 1641.1L642.8 1644.2L645.2 1647.4L647.5 1650.9L649.9 1654.4L650.3 1655L652.3 1658.1L654.7 1662L657.1 1666L659.5 1670.2L661.8 1674.5L664.2 1678.9L666.6 1683.5L669 1688.1L671.4 1692.9L673.7 1697.8L676.1 1702.9L678.5 1708L680.9 1713.2L683.3 1718.5L685.7 1723.9L688 1729.4L690.4 1735L692.8 1740.6L695.2 1746.4L697.6 1752.1L700 1758L702.3 1763.9L704.7 1769.8L707.1 1775.8L709.5 1781.9L711.9 1788L714.3 1794.1L716.6 1800.2L719 1806.4L721.4 1812.6L723.8 1818.8L726.2 1825L728.6 1831.2L730.9 1837.4L733.3 1843.6L735.7 1849.8L738.1 1856L740.5 1862.2L742.9 1868.3L745.2 1874.4L747.6 1880.5L750 1886.5L752.4 1892.5L754.8 1898.5L757.2 1904.4L759.5 1910.2L761.9 1916L764.3 1921.7L766.7 1927.3L769.1 1932.9L771.5 1938.4L773.8 1943.8L775.5 1947.5L776.2 1949.1L778.6 1954.3L781 1959.4L783.4 1964.4L785.7 1969.4L788.1 1974.2L790.5 1979L792.9 1983.7L795.3 1988.3L797.7 1992.8L800 1997.2L802.4 2001.5L804.8 2005.8L807.2 2009.9L809.6 2014L812 2018L814.3 2022L816.7 2025.8L819.1 2029.6L821.5 2033.3L823.9 2036.9L826.3 2040.5L828.6 2044L831 2047.4L833.4 2050.7L835.8 2054L838.2 2057.2L840.6 2060.3L842.9 2063.4L845.3 2066.4L847.7 2069.3L850.1 2072.2L852.5 2075L854.9 2077.8L857.2 2080.5L859.6 2083.1L862 2085.7L864.4 2088.2L866.8 2090.7L869.2 2093.1L871.5 2095.5L873.9 2097.8L876.3 2100L878.7 2102.2L881.1 2104.4L883.5 2106.5L885.8 2108.5L888.2 2110.5L890.6 2112.5L893 2114.4L895.4 2116.3L897.7 2118.1L900.1 2119.9L902.5 2121.6L904.9 2123.4L907.3 2125L909.7 2126.7L912 2128.2L914.4 2129.8L916.8 2131.3L919.2 2132.8L921.6 2134.3L924 2135.7L926.3 2137.1L928.7 2138.5L931.1 2139.8L933.5 2141.1L935.9 2142.4L938.3 2143.6L940.6 2144.9L943 2146.1L945.4 2147.3L947.8 2148.4L950.2 2149.6L952.6 2150.7L954.9 2151.8L957.3 2152.9L959.7 2154L962.1 2155L964.5 2156.1L966.9 2157.1L969.2 2158.1L971.6 2159.1L974 2160.1L976.4 2161.1L978.8 2162L981.2 2163L983.5 2164L985.9 2164.9L988.3 2165.9L990.7 2166.8L993.1 2167.8L995.4 2168.7L997.8 2169.7L1000.2 2170.6L1002.6 2171.6L1005 2172.5L1007.4 2173.5L1009.7 2174.4L1009.7 2174.4L1012.1 2175.4L1014.5 2176.4L1016.9 2177.3L1019.3 2178.3L1021.7 2179.3L1024 2180.3L1026.4 2181.3L1028.8 2182.3L1031.2 2183.3L1033.6 2184.3L1036 2185.3L1038.3 2186.3L1040.7 2187.4L1043.1 2188.4L1045.5 2189.5L1047.9 2190.5L1050.3 2191.6L1052.6 2192.6L1055 2193.7L1057.4 2194.7L1059.8 2195.8L1062.2 2196.9L1064.6 2198L1066.9 2199.1L1069.3 2200.1L1071.7 2201.2L1074.1 2202.3L1076.5 2203.5L1078.9 2204.6L1081.2 2205.7L1083.6 2206.8L1086 2207.9L1088.4 2209.1L1090.8 2210.2L1093.2 2211.3L1095.5 2212.5L1097.9 2213.6L1100.3 2214.8L1102.7 2216L1105.1 2217.1L1107.4 2218.3L1109.8 2219.5L1112.2 2220.7L1114.6 2221.8L1117 2223L1119.4 2224.2L1121.7 2225.4L1124.1 2226.6L1126.5 2227.8L1128.9 2229L1131.3 2230.3L1133.7 2231.5L1136 2232.7L1138.4 2233.9L1140.8 2235.2L1143.2 2236.4L1145.6 2237.6L1148 2238.9L1150.3 2240.1L1152.7 2241.4L1155.1 2242.7L1157.5 2243.9L1159.9 2245.2L1162.3 2246.5L1164.6 2247.7L1167 2249L1169.4 2250.3L1171.8 2251.6L1174.2 2252.9L1176.6 2254.2L1178.9 2255.5L1181.3 2256.8L1183.7 2258.1L1186.1 2259.4L1188.5 2260.7L1190.9 2262L1193.2 2263.3L1195.6 2264.7L1198 2266L1200.4 2267.3L1202.8 2268.7L1205.2 2270L1207.5 2271.4L1209.9 2272.7L1212.3 2274.1L1214.7 2275.4L1217.1 2276.8L1219.4 2278.1L1221.8 2279.5L1224.2 2280.9L1226.6 2282.2L1229 2283.6L1231.4 2285L1233.7 2286.4L1236.1 2287.8L1238.5 2289.1L1240.9 2290.5L1243.3 2291.9L1245.7 2293.3L1248 2294.7L1250.4 2296.1L1252.8 2297.5L1255.2 2298.9L1257.6 2300.4L1260 2301.8L1262.3 2303.2L1264.7 2304.6L1267.1 2306L1269.5 2307.5L1271.9 2308.9L1274.3 2310.3L1276.6 2311.8L1279 2313.2L1281.4 2314.7L1283.8 2316.1L1286.2 2317.5L1288.6 2319L1290.9 2320.4L1293.3 2321.9L1295.7 2323.4L1298.1 2324.8L1300.5 2326.3L1302.9 2327.8L1305.2 2329.2L1307.6 2330.7L1310 2332.2L1312.4 2333.6L1314.8 2335.1L1317.2 2336.6L1319.5 2338.1L1321.9 2339.6L1324.3 2341.1L1326.7 2342.5L1329.1 2344L1331.4 2345.5L1333.8 2347L1336.2 2348.5L1338.6 2350L1341 2351.5L1343.4 2353L1345.7 2354.6L1348.1 2356.1L1350.5 2357.6L1352.9 2359.1L1355.3 2360.6L1357.7 2362.1L1360 2363.6L1362.4 2365.2L1364.8 2366.7L1367.2 2368.2L1369.6 2369.7L1372 2371.3L1374.3 2372.8L1376.7 2374.3L1379.1 2375.9L1381.5 2377.4L1383.9 2378.9L1386.3 2380.5L1388.6 2382L1391 2383.6L1393.4 2385.1L1395.8 2386.6L1398.2 2388.2L1400.6 2389.7L1402.9 2391.3L1405.3 2392.8L1407.7 2394.4L1410.1 2395.9L1412.5 2397.5L1414.9 2399.1L1417.2 2400.6L1419.6 2402.2L1422 2403.7L1424.4 2405.3L1426.8 2406.9L1429.1 2408.4L1431.5 2410L1433.9 2411.6L1436.3 2413.1L1438.7 2414.7L1441.1 2416.3L1443.4 2417.8L1445.8 2419.4L1448.2 2421L1450.6 2422.5L1453 2424.1L1455.4 2425.7L1457.7 2427.3L1460.1 2428.8L1462.5 2430.4L1464.9 2432L1467.3 2433.6L1469.7 2435.2L1472 2436.7L1474.4 2438.3L1476.8 2439.9L1479.2 2441.5L1481.6 2443.1L1484 2444.7L1486.3 2446.2L1488.7 2447.8L1491.1 2449.4L1493.5 2451L1495.9 2452.6L1498.3 2454.2L1500.6 2455.8L1503 2457.3L1505.4 2458.9L1507.8 2460.5L1510.2 2462.1L1512.6 2463.7L1514.9 2465.3L1517.3 2466.9L1519.7 2468.5L1522.1 2470.1L1524.5 2471.6L1526.9 2473.2L1529.2 2474.8L1531.6 2476.4L1534 2478" fill="none" stroke="#c27ae1" stroke-width="9" stroke-linejoin="round" stroke-linecap="round"/>
<circle cx="262.9" cy="2208.9" r="13.8"/><circle cx="259.1" cy="2205.1" r="7.3" fill="url(#hl)"/>
<circle cx="270.5" cy="2360.6" r="13.8"/><circle cx="266.7" cy="2356.8" r="7.3" fill="url(#hl)"/>
<circle cx="276.1" cy="2372.9" r="13.8"/><circle cx="272.3" cy="2369.1" r="7.3" fill="url(#hl)"/>
<circle cx="282.8" cy="2381.5" r="13.8"/><circle cx="279" cy="2377.7" r="7.3" fill="url(#hl)"/>
<circle cx="291.4" cy="2408.5" r="13.8"/><circle cx="287.6" cy="2404.7" r="7.3" fill="url(#hl)"/>
<circle cx="302.5" cy="2394.4" r="13.8"/><circle cx="298.7" cy="2390.6" r="7.3" fill="url(#hl)"/>
<circle cx="319.1" cy="2397.5" r="13.8"/><circle cx="315.3" cy="2393.7" r="7.3" fill="url(#hl)"/>
<circle cx="344.9" cy="2376.6" r="13.8"/><circle cx="341.1" cy="2372.8" r="7.3" fill="url(#hl)"/>
<circle cx="390.5" cy="2211" r="13.8"/><circle cx="386.7" cy="2207.2" r="7.3" fill="url(#hl)"/>
<circle cx="444.5" cy="2024.5" r="13.8"/><circle cx="440.7" cy="2020.7" r="7.3" fill="url(#hl)"/>
<circle cx="485.7" cy="1822.1" r="13.8"/><circle cx="481.9" cy="1818.3" r="7.3" fill="url(#hl)"/>
<circle cx="578.6" cy="1615.3" r="13.8"/><circle cx="574.8" cy="1611.5" r="7.3" fill="url(#hl)"/>
<circle cx="650.3" cy="1655" r="13.8"/><circle cx="646.5" cy="1651.2" r="7.3" fill="url(#hl)"/>
<circle cx="775.5" cy="1947.5" r="13.8"/><circle cx="771.7" cy="1943.7" r="7.3" fill="url(#hl)"/>
<circle cx="1009.7" cy="2174.4" r="13.8"/><circle cx="1005.9" cy="2170.6" r="7.3" fill="url(#hl)"/>
<circle cx="1534" cy="2478" r="13.8"/><circle cx="1530.2" cy="2474.2" r="7.3" fill="url(#hl)"/>
</g>
<g stroke="#000" stroke-width="5" fill="none">
<rect x="139.8" y="1424" width="1471.7" height="1221.8"/>
<path d="M231.6 2645.8V2669.6"/>
<path d="M415.7 2645.8V2669.6"/>
<path d="M599.8 2645.8V2669.6"/>
<path d="M783.9 2645.8V2669.6"/>
<path d="M968 2645.8V2669.6"/>
<path d="M1152.1 2645.8V2669.6"/>
<path d="M1336.2 2645.8V2669.6"/>
<path d="M1520.3 2645.8V2669.6"/>
<path d="M139.8 2645.8V2657.7"/>
<path d="M323.6 2645.8V2657.7"/>
<path d="M507.8 2645.8V2657.7"/>
<path d="M691.9 2645.8V2657.7"/>
<path d="M876 2645.8V2657.7"/>
<path d="M1060 2645.8V2657.7"/>
<path d="M1244.1 2645.8V2657.7"/>
<path d="M1428.2 2645.8V2657.7"/>
<path d="M1611.5 2645.8V2657.7"/>
</g>
<g font-size="58" text-anchor="middle">
<text x="231.3" y="2730.2">0</text>
<text x="415.4" y="2730.2">20</text>
<text x="599.5" y="2730.2">40</text>
<text x="783.6" y="2730.2">60</text>
<text x="967.7" y="2730.2">80</text>
<text x="1151.8" y="2730.2">100</text>
<text x="1335.9" y="2730.2">120</text>
<text x="1520" y="2730.2">140</text>
</g>
<g class="b"><text font-size="65" x="783" y="2833.5">d</text><text font-size="41.4" x="819.2" y="2844.2">p</text><text font-size="65" transform="translate(840.7 2833.5) scale(0.969 1)">(nm)</text></g>
<g class="b" transform="translate(77.8 2249.3) rotate(-90)"><text font-size="64.6" x="0" y="0">dV/dlogd</text><text font-size="44.5" x="257.3" y="14.4">p</text><text font-size="64.1" x="280.6" y="0">(a.u.)</text></g>
<text font-size="65" x="50.8" y="1455.5">(b)</text>
<g fill="#767676"><path d="M1033.3 1476.5H1157.3" stroke="#767676" stroke-width="9" stroke-linecap="round"/><circle cx="1095.4" cy="1476.5" r="13.8"/><circle cx="1091.6" cy="1472.7" r="7.3" fill="url(#hl)"/></g>
<text font-size="64" transform="translate(1188.6 1499.8) scale(0.9656 1)">Pt/SSZ32</text>
<g fill="#00ab64"><path d="M1033.3 1554.5H1157.3" stroke="#00ab64" stroke-width="9" stroke-linecap="round"/><circle cx="1095.4" cy="1554.5" r="13.8"/><circle cx="1091.6" cy="1550.7" r="7.3" fill="url(#hl)"/></g>
<text font-size="64" transform="translate(1188.6 1577.8) scale(0.9656 1)">Pt/SSZ32-0.3A</text>
<g fill="#006be0"><path d="M1033.3 1632.5H1157.3" stroke="#006be0" stroke-width="9" stroke-linecap="round"/><circle cx="1095.4" cy="1632.5" r="13.8"/><circle cx="1091.6" cy="1628.7" r="7.3" fill="url(#hl)"/></g>
<text font-size="64" transform="translate(1188.6 1655.8) scale(0.9656 1)">Pt/SSZ32-0.6A</text>
<g fill="#fd3d3d"><path d="M1033.3 1710.5H1157.3" stroke="#fd3d3d" stroke-width="9" stroke-linecap="round"/><circle cx="1095.4" cy="1710.5" r="13.8"/><circle cx="1091.6" cy="1706.7" r="7.3" fill="url(#hl)"/></g>
<text font-size="64" transform="translate(1188.6 1733.8) scale(0.9656 1)">Pt/SSZ32-0.3AS</text>
<g fill="#c27ae1"><path d="M1033.3 1788.5H1157.3" stroke="#c27ae1" stroke-width="9" stroke-linecap="round"/><circle cx="1095.4" cy="1788.5" r="13.8"/><circle cx="1091.6" cy="1784.7" r="7.3" fill="url(#hl)"/></g>
<text font-size="64" transform="translate(1188.6 1811.8) scale(0.9656 1)">Pt/SSZ32-0.6AS</text>
</g>
</svg></body></html>
